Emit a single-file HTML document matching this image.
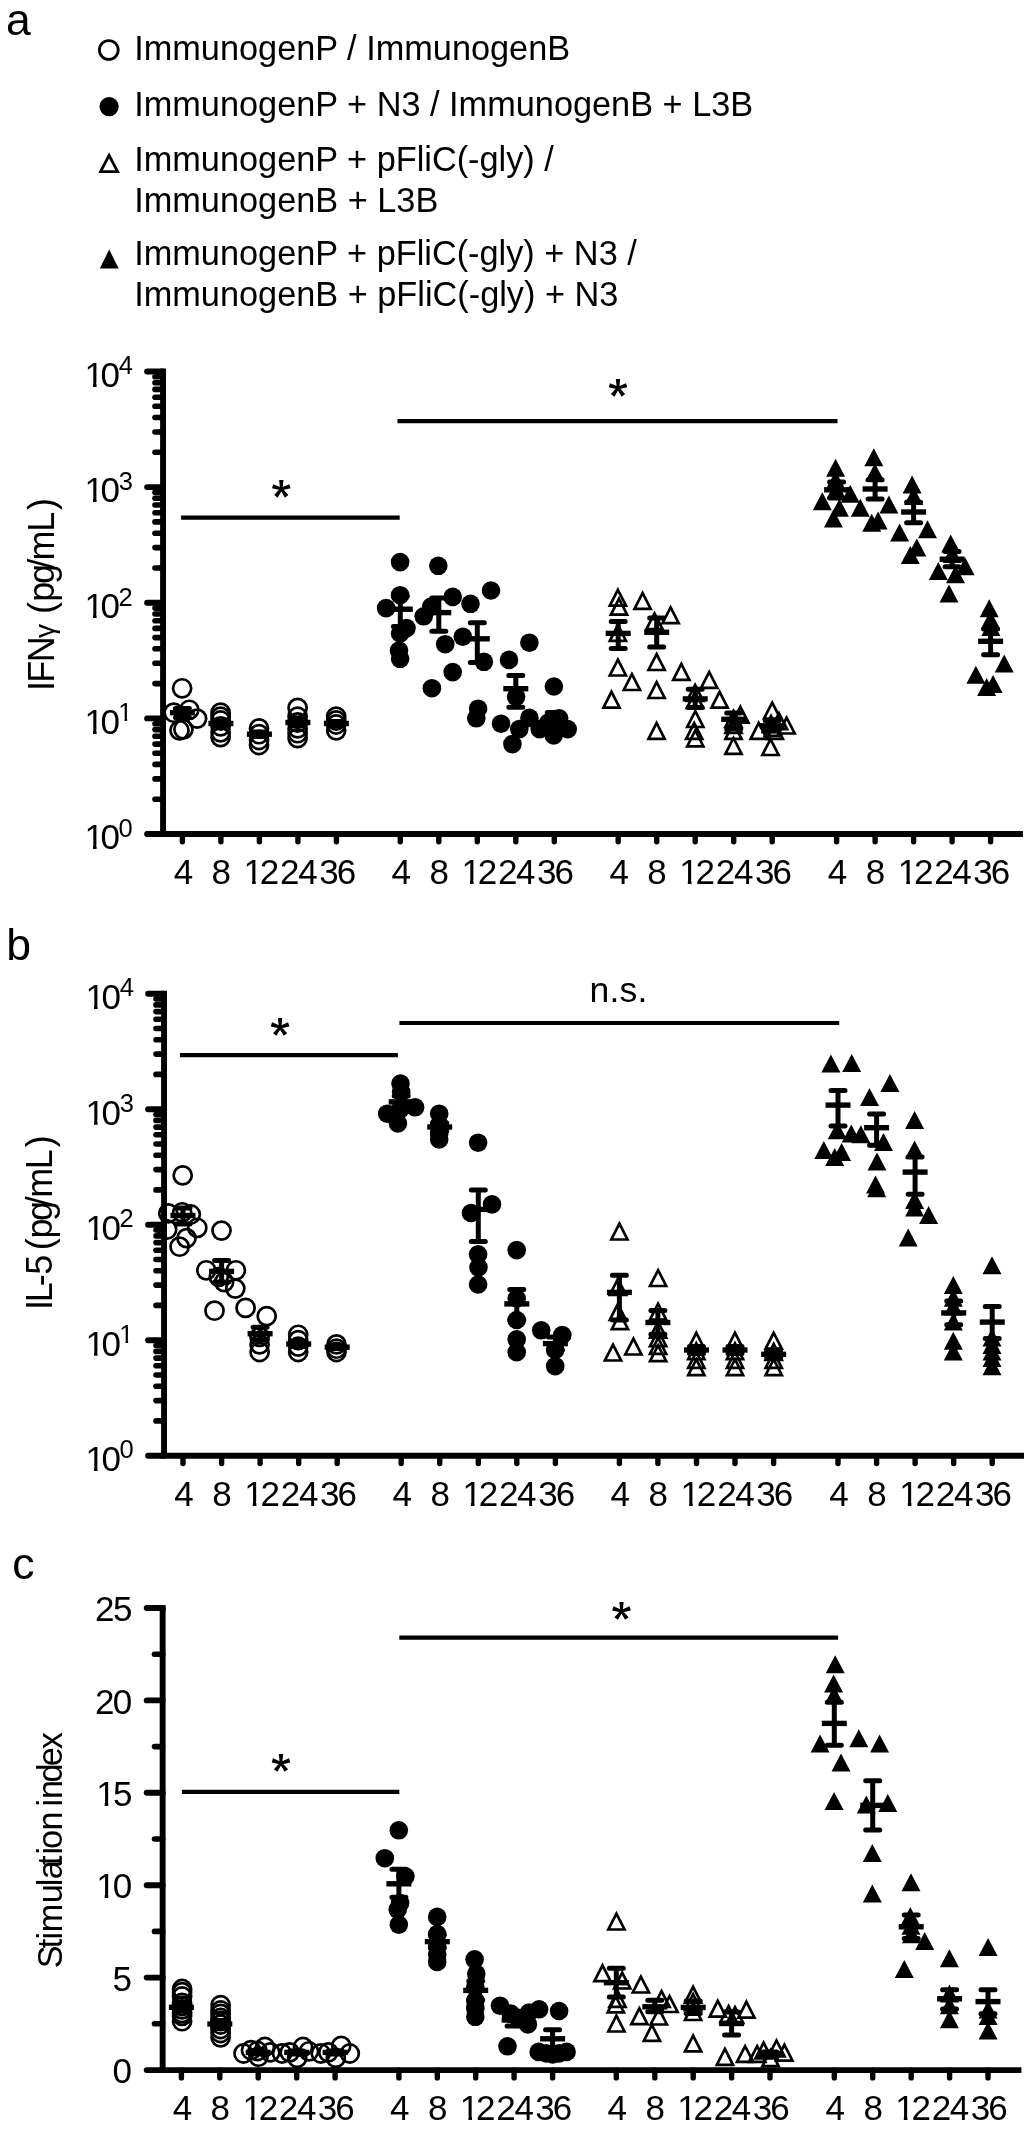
<!DOCTYPE html><html><head><meta charset="utf-8"><title>Figure</title><style>html,body{margin:0;padding:0;background:#fff}svg{display:block}</style></head><body>
<svg width="1024" height="2131" viewBox="0 0 1024 2131" style="font-family:'Liberation Sans',sans-serif;filter:blur(0.45px)">
<rect width="1024" height="2131" fill="#fff"/>
<defs><clipPath id="c1_35" clipPathUnits="userSpaceOnUse"><rect x="0" y="-35.00" width="35.00" height="30.73"/><rect x="8.54" y="-4.79" width="3.61" height="5.13"/></clipPath><clipPath id="c1_25_5" clipPathUnits="userSpaceOnUse"><rect x="0" y="-25.50" width="25.50" height="22.39"/><rect x="6.23" y="-3.49" width="2.63" height="3.74"/></clipPath></defs>
<text x="5.88" y="34.5" font-size="44.5"  style="font-family:'Liberation Sans',sans-serif">a</text>
<text x="6.33" y="960.0" font-size="44.5"  style="font-family:'Liberation Sans',sans-serif">b</text>
<text x="12.27" y="1578.6" font-size="44.5"  style="font-family:'Liberation Sans',sans-serif">c</text>
<text x="134.2" y="60.0" font-size="34.3" style="font-family:'Liberation Sans',sans-serif">ImmunogenP / ImmunogenB</text>
<text x="134.2" y="116.1" font-size="34.3" style="font-family:'Liberation Sans',sans-serif">ImmunogenP + N3 / ImmunogenB + L3B</text>
<text x="134.2" y="171.4" font-size="34.3" style="font-family:'Liberation Sans',sans-serif">ImmunogenP + pFliC(-gly) /</text>
<text x="134.2" y="212.4" font-size="34.3" style="font-family:'Liberation Sans',sans-serif">ImmunogenB + L3B</text>
<text x="134.2" y="265.1" font-size="34.3" style="font-family:'Liberation Sans',sans-serif">ImmunogenP + pFliC(-gly) + N3 /</text>
<text x="134.2" y="306.1" font-size="34.3" style="font-family:'Liberation Sans',sans-serif">ImmunogenB + pFliC(-gly) + N3</text>
<circle cx="108.8" cy="50.0" r="9.4" fill="none" stroke="#000" stroke-width="2.8"/>
<circle cx="109.1" cy="106.6" r="9.6" fill="#000"/>
<path d="M109.1,155.3L117.6,171.7L100.6,171.7Z" fill="none" stroke="#000" stroke-width="2.8"/>
<path d="M109.2,249.5L118.6,268.4L99.8,268.4Z" fill="#000"/>
<path d="M163.05,371.5V834.0" stroke="#000" stroke-width="5.9" stroke-linecap="butt" fill="none"/>
<path d="M160.1,834.0H1022.9" stroke="#000" stroke-width="5.9" fill="none"/>
<path d="M147.10,834.0H163.05" stroke="#000" stroke-width="5.9" stroke-linecap="round" fill="none"/>
<path d="M147.10,718.4H163.05" stroke="#000" stroke-width="5.9" stroke-linecap="round" fill="none"/>
<path d="M147.10,602.8H163.05" stroke="#000" stroke-width="5.9" stroke-linecap="round" fill="none"/>
<path d="M147.10,487.1H163.05" stroke="#000" stroke-width="5.9" stroke-linecap="round" fill="none"/>
<path d="M147.10,371.5H163.05" stroke="#000" stroke-width="5.9" stroke-linecap="round" fill="none"/>
<path d="M155.00,799.2H163.05" stroke="#000" stroke-width="5.6000000000000005" stroke-linecap="round" fill="none"/>
<path d="M155.00,778.9H163.05" stroke="#000" stroke-width="5.6000000000000005" stroke-linecap="round" fill="none"/>
<path d="M155.00,764.4H163.05" stroke="#000" stroke-width="5.6000000000000005" stroke-linecap="round" fill="none"/>
<path d="M155.00,753.2H163.05" stroke="#000" stroke-width="5.6000000000000005" stroke-linecap="round" fill="none"/>
<path d="M155.00,744.1H163.05" stroke="#000" stroke-width="5.6000000000000005" stroke-linecap="round" fill="none"/>
<path d="M155.00,736.3H163.05" stroke="#000" stroke-width="5.6000000000000005" stroke-linecap="round" fill="none"/>
<path d="M155.00,729.6H163.05" stroke="#000" stroke-width="5.6000000000000005" stroke-linecap="round" fill="none"/>
<path d="M155.00,723.7H163.05" stroke="#000" stroke-width="5.6000000000000005" stroke-linecap="round" fill="none"/>
<path d="M155.00,683.6H163.05" stroke="#000" stroke-width="5.6000000000000005" stroke-linecap="round" fill="none"/>
<path d="M155.00,663.2H163.05" stroke="#000" stroke-width="5.6000000000000005" stroke-linecap="round" fill="none"/>
<path d="M155.00,648.8H163.05" stroke="#000" stroke-width="5.6000000000000005" stroke-linecap="round" fill="none"/>
<path d="M155.00,637.6H163.05" stroke="#000" stroke-width="5.6000000000000005" stroke-linecap="round" fill="none"/>
<path d="M155.00,628.4H163.05" stroke="#000" stroke-width="5.6000000000000005" stroke-linecap="round" fill="none"/>
<path d="M155.00,620.7H163.05" stroke="#000" stroke-width="5.6000000000000005" stroke-linecap="round" fill="none"/>
<path d="M155.00,614.0H163.05" stroke="#000" stroke-width="5.6000000000000005" stroke-linecap="round" fill="none"/>
<path d="M155.00,608.1H163.05" stroke="#000" stroke-width="5.6000000000000005" stroke-linecap="round" fill="none"/>
<path d="M155.00,568.0H163.05" stroke="#000" stroke-width="5.6000000000000005" stroke-linecap="round" fill="none"/>
<path d="M155.00,547.6H163.05" stroke="#000" stroke-width="5.6000000000000005" stroke-linecap="round" fill="none"/>
<path d="M155.00,533.2H163.05" stroke="#000" stroke-width="5.6000000000000005" stroke-linecap="round" fill="none"/>
<path d="M155.00,521.9H163.05" stroke="#000" stroke-width="5.6000000000000005" stroke-linecap="round" fill="none"/>
<path d="M155.00,512.8H163.05" stroke="#000" stroke-width="5.6000000000000005" stroke-linecap="round" fill="none"/>
<path d="M155.00,505.0H163.05" stroke="#000" stroke-width="5.6000000000000005" stroke-linecap="round" fill="none"/>
<path d="M155.00,498.3H163.05" stroke="#000" stroke-width="5.6000000000000005" stroke-linecap="round" fill="none"/>
<path d="M155.00,492.4H163.05" stroke="#000" stroke-width="5.6000000000000005" stroke-linecap="round" fill="none"/>
<path d="M155.00,452.3H163.05" stroke="#000" stroke-width="5.6000000000000005" stroke-linecap="round" fill="none"/>
<path d="M155.00,432.0H163.05" stroke="#000" stroke-width="5.6000000000000005" stroke-linecap="round" fill="none"/>
<path d="M155.00,417.5H163.05" stroke="#000" stroke-width="5.6000000000000005" stroke-linecap="round" fill="none"/>
<path d="M155.00,406.3H163.05" stroke="#000" stroke-width="5.6000000000000005" stroke-linecap="round" fill="none"/>
<path d="M155.00,397.2H163.05" stroke="#000" stroke-width="5.6000000000000005" stroke-linecap="round" fill="none"/>
<path d="M155.00,389.4H163.05" stroke="#000" stroke-width="5.6000000000000005" stroke-linecap="round" fill="none"/>
<path d="M155.00,382.7H163.05" stroke="#000" stroke-width="5.6000000000000005" stroke-linecap="round" fill="none"/>
<path d="M155.00,376.8H163.05" stroke="#000" stroke-width="5.6000000000000005" stroke-linecap="round" fill="none"/>
<rect x="160.1" y="368.6" width="5.9" height="5.9" fill="#000"/>
<path d="M182.4,834.0V841.8" stroke="#000" stroke-width="5.4" stroke-linecap="round" fill="none"/>
<path d="M220.9,834.0V841.8" stroke="#000" stroke-width="5.4" stroke-linecap="round" fill="none"/>
<path d="M259.4,834.0V841.8" stroke="#000" stroke-width="5.4" stroke-linecap="round" fill="none"/>
<path d="M297.9,834.0V841.8" stroke="#000" stroke-width="5.4" stroke-linecap="round" fill="none"/>
<path d="M336.4,834.0V841.8" stroke="#000" stroke-width="5.4" stroke-linecap="round" fill="none"/>
<path d="M400.3,834.0V841.8" stroke="#000" stroke-width="5.4" stroke-linecap="round" fill="none"/>
<path d="M438.8,834.0V841.8" stroke="#000" stroke-width="5.4" stroke-linecap="round" fill="none"/>
<path d="M477.3,834.0V841.8" stroke="#000" stroke-width="5.4" stroke-linecap="round" fill="none"/>
<path d="M515.8,834.0V841.8" stroke="#000" stroke-width="5.4" stroke-linecap="round" fill="none"/>
<path d="M554.3,834.0V841.8" stroke="#000" stroke-width="5.4" stroke-linecap="round" fill="none"/>
<path d="M618.2,834.0V841.8" stroke="#000" stroke-width="5.4" stroke-linecap="round" fill="none"/>
<path d="M656.7,834.0V841.8" stroke="#000" stroke-width="5.4" stroke-linecap="round" fill="none"/>
<path d="M695.2,834.0V841.8" stroke="#000" stroke-width="5.4" stroke-linecap="round" fill="none"/>
<path d="M733.7,834.0V841.8" stroke="#000" stroke-width="5.4" stroke-linecap="round" fill="none"/>
<path d="M772.2,834.0V841.8" stroke="#000" stroke-width="5.4" stroke-linecap="round" fill="none"/>
<path d="M836.6,834.0V841.8" stroke="#000" stroke-width="5.4" stroke-linecap="round" fill="none"/>
<path d="M875.1,834.0V841.8" stroke="#000" stroke-width="5.4" stroke-linecap="round" fill="none"/>
<path d="M913.6,834.0V841.8" stroke="#000" stroke-width="5.4" stroke-linecap="round" fill="none"/>
<path d="M952.1,834.0V841.8" stroke="#000" stroke-width="5.4" stroke-linecap="round" fill="none"/>
<path d="M990.6,834.0V841.8" stroke="#000" stroke-width="5.4" stroke-linecap="round" fill="none"/>
<text x="173.63" y="884.2" font-size="35"  style="font-family:'Liberation Sans',sans-serif">4</text>
<text x="211.57" y="884.2" font-size="35"  style="font-family:'Liberation Sans',sans-serif">8</text>
<g transform="translate(243.53,884.2)"><text x="0" y="0" font-size="35" clip-path="url(#c1_35)"  style="font-family:'Liberation Sans',sans-serif">1</text></g><text x="259.79" y="884.2" font-size="35"  style="font-family:'Liberation Sans',sans-serif">2</text>
<text x="280.04 298.16" y="884.2" font-size="35"  style="font-family:'Liberation Sans',sans-serif">24</text>
<text x="319.17 336.67" y="884.2" font-size="35"  style="font-family:'Liberation Sans',sans-serif">36</text>
<text x="391.53" y="884.2" font-size="35"  style="font-family:'Liberation Sans',sans-serif">4</text>
<text x="429.47" y="884.2" font-size="35"  style="font-family:'Liberation Sans',sans-serif">8</text>
<g transform="translate(461.43,884.2)"><text x="0" y="0" font-size="35" clip-path="url(#c1_35)"  style="font-family:'Liberation Sans',sans-serif">1</text></g><text x="477.69" y="884.2" font-size="35"  style="font-family:'Liberation Sans',sans-serif">2</text>
<text x="497.94 516.06" y="884.2" font-size="35"  style="font-family:'Liberation Sans',sans-serif">24</text>
<text x="537.07 554.57" y="884.2" font-size="35"  style="font-family:'Liberation Sans',sans-serif">36</text>
<text x="609.43" y="884.2" font-size="35"  style="font-family:'Liberation Sans',sans-serif">4</text>
<text x="647.37" y="884.2" font-size="35"  style="font-family:'Liberation Sans',sans-serif">8</text>
<g transform="translate(679.33,884.2)"><text x="0" y="0" font-size="35" clip-path="url(#c1_35)"  style="font-family:'Liberation Sans',sans-serif">1</text></g><text x="695.59" y="884.2" font-size="35"  style="font-family:'Liberation Sans',sans-serif">2</text>
<text x="715.84 733.96" y="884.2" font-size="35"  style="font-family:'Liberation Sans',sans-serif">24</text>
<text x="754.97 772.47" y="884.2" font-size="35"  style="font-family:'Liberation Sans',sans-serif">36</text>
<text x="827.83" y="884.2" font-size="35"  style="font-family:'Liberation Sans',sans-serif">4</text>
<text x="865.77" y="884.2" font-size="35"  style="font-family:'Liberation Sans',sans-serif">8</text>
<g transform="translate(897.73,884.2)"><text x="0" y="0" font-size="35" clip-path="url(#c1_35)"  style="font-family:'Liberation Sans',sans-serif">1</text></g><text x="913.99" y="884.2" font-size="35"  style="font-family:'Liberation Sans',sans-serif">2</text>
<text x="934.24 952.36" y="884.2" font-size="35"  style="font-family:'Liberation Sans',sans-serif">24</text>
<text x="973.37 990.87" y="884.2" font-size="35"  style="font-family:'Liberation Sans',sans-serif">36</text>
<g transform="translate(84.43,849.3)"><text x="0" y="0" font-size="35" clip-path="url(#c1_35)"  style="font-family:'Liberation Sans',sans-serif">1</text></g><text x="100.40" y="849.3" font-size="35"  style="font-family:'Liberation Sans',sans-serif">0</text>
<text x="118.61" y="836.8" font-size="25.5"  style="font-family:'Liberation Sans',sans-serif">0</text>
<g transform="translate(84.43,733.7)"><text x="0" y="0" font-size="35" clip-path="url(#c1_35)"  style="font-family:'Liberation Sans',sans-serif">1</text></g><text x="100.40" y="733.7" font-size="35"  style="font-family:'Liberation Sans',sans-serif">0</text>
<g transform="translate(118.26,721.1)"><text x="0" y="0" font-size="25.5" clip-path="url(#c1_25_5)"  style="font-family:'Liberation Sans',sans-serif">1</text></g>
<g transform="translate(84.43,618.1)"><text x="0" y="0" font-size="35" clip-path="url(#c1_35)"  style="font-family:'Liberation Sans',sans-serif">1</text></g><text x="100.40" y="618.1" font-size="35"  style="font-family:'Liberation Sans',sans-serif">0</text>
<text x="118.61" y="605.5" font-size="25.5"  style="font-family:'Liberation Sans',sans-serif">2</text>
<g transform="translate(84.43,502.4)"><text x="0" y="0" font-size="35" clip-path="url(#c1_35)"  style="font-family:'Liberation Sans',sans-serif">1</text></g><text x="100.40" y="502.4" font-size="35"  style="font-family:'Liberation Sans',sans-serif">0</text>
<text x="118.68" y="489.8" font-size="25.5"  style="font-family:'Liberation Sans',sans-serif">3</text>
<g transform="translate(84.43,386.8)"><text x="0" y="0" font-size="35" clip-path="url(#c1_35)"  style="font-family:'Liberation Sans',sans-serif">1</text></g><text x="100.40" y="386.8" font-size="35"  style="font-family:'Liberation Sans',sans-serif">0</text>
<text x="118.69" y="374.2" font-size="25.5"  style="font-family:'Liberation Sans',sans-serif">4</text>
<text transform="translate(54.0,0) rotate(-90)" x="-690.92" y="0" font-size="36" style="font-family:'Liberation Sans',sans-serif">I</text>
<text transform="translate(54.0,0) rotate(-90)" x="-682.65" y="0" font-size="36" style="font-family:'Liberation Sans',sans-serif">F</text>
<text transform="translate(54.0,0) rotate(-90)" x="-662.25" y="0" font-size="36" style="font-family:'Liberation Sans',sans-serif">N</text>
<text transform="translate(54.0,0) rotate(-90)" x="-637.90" y="0" font-size="28" style="font-family:'Liberation Sans',sans-serif">γ</text>
<text transform="translate(54.0,0) rotate(-90)" x="-613.93" y="0" font-size="36" style="font-family:'Liberation Sans',sans-serif">(</text>
<text transform="translate(54.0,0) rotate(-90)" x="-601.72" y="0" font-size="36" style="font-family:'Liberation Sans',sans-serif">p</text>
<text transform="translate(54.0,0) rotate(-90)" x="-584.11" y="0" font-size="36" style="font-family:'Liberation Sans',sans-serif">g</text>
<text transform="translate(54.0,0) rotate(-90)" x="-568.80" y="0" font-size="36" style="font-family:'Liberation Sans',sans-serif">/</text>
<text transform="translate(54.0,0) rotate(-90)" x="-560.39" y="0" font-size="36" style="font-family:'Liberation Sans',sans-serif">m</text>
<text transform="translate(54.0,0) rotate(-90)" x="-531.85" y="0" font-size="36" style="font-family:'Liberation Sans',sans-serif">L</text>
<text transform="translate(54.0,0) rotate(-90)" x="-509.91" y="0" font-size="36" style="font-family:'Liberation Sans',sans-serif">)</text>
<path d="M181.1,517.6H399.7" stroke="#000" stroke-width="4.2" stroke-linecap="butt" fill="none"/>
<path d="M282.55,489.00L283.45,479.90L279.15,479.90L280.05,489.00ZM281.69,487.81L273.31,484.14L271.98,488.23L280.91,490.19ZM280.29,488.27L274.21,495.10L277.69,497.63L282.31,489.73ZM280.29,489.73L284.91,497.63L288.39,495.10L282.31,488.27ZM281.69,490.19L290.62,488.23L289.29,484.14L280.91,487.81Z" fill="#000"/>
<circle cx="281.3" cy="489.0" r="1.9" fill="#000"/>
<path d="M397.5,421.2H837.5" stroke="#000" stroke-width="4.2" stroke-linecap="butt" fill="none"/>
<path d="M619.25,388.00L620.15,378.90L615.85,378.90L616.75,388.00ZM618.39,386.81L610.01,383.14L608.68,387.23L617.61,389.19ZM616.99,387.27L610.91,394.10L614.39,396.63L619.01,388.73ZM616.99,388.73L621.61,396.63L625.09,394.10L619.01,387.27ZM618.39,389.19L627.32,387.23L625.99,383.14L617.61,386.81Z" fill="#000"/>
<circle cx="618.0" cy="388.0" r="1.9" fill="#000"/>
<circle cx="182.1" cy="688.3" r="9.05" fill="none" stroke="#000" stroke-width="2.7"/>
<circle cx="173.7" cy="712.7" r="9.05" fill="none" stroke="#000" stroke-width="2.7"/>
<circle cx="189.3" cy="709.8" r="9.05" fill="none" stroke="#000" stroke-width="2.7"/>
<circle cx="197.1" cy="718.6" r="9.05" fill="none" stroke="#000" stroke-width="2.7"/>
<circle cx="179.5" cy="730.3" r="9.05" fill="none" stroke="#000" stroke-width="2.7"/>
<circle cx="183.4" cy="729.3" r="9.05" fill="none" stroke="#000" stroke-width="2.7"/>
<circle cx="220.6" cy="712.7" r="9.05" fill="none" stroke="#000" stroke-width="2.7"/>
<circle cx="220.6" cy="716.6" r="9.05" fill="none" stroke="#000" stroke-width="2.7"/>
<circle cx="220.6" cy="720.5" r="9.05" fill="none" stroke="#000" stroke-width="2.7"/>
<circle cx="220.6" cy="726.4" r="9.05" fill="none" stroke="#000" stroke-width="2.7"/>
<circle cx="220.6" cy="732.3" r="9.05" fill="none" stroke="#000" stroke-width="2.7"/>
<circle cx="220.6" cy="737.1" r="9.05" fill="none" stroke="#000" stroke-width="2.7"/>
<circle cx="259.0" cy="728.4" r="9.05" fill="none" stroke="#000" stroke-width="2.7"/>
<circle cx="259.0" cy="734.2" r="9.05" fill="none" stroke="#000" stroke-width="2.7"/>
<circle cx="259.0" cy="740.0" r="9.05" fill="none" stroke="#000" stroke-width="2.7"/>
<circle cx="259.0" cy="745.0" r="9.05" fill="none" stroke="#000" stroke-width="2.7"/>
<circle cx="297.6" cy="707.9" r="9.05" fill="none" stroke="#000" stroke-width="2.7"/>
<circle cx="297.6" cy="716.6" r="9.05" fill="none" stroke="#000" stroke-width="2.7"/>
<circle cx="297.6" cy="722.5" r="9.05" fill="none" stroke="#000" stroke-width="2.7"/>
<circle cx="297.6" cy="728.4" r="9.05" fill="none" stroke="#000" stroke-width="2.7"/>
<circle cx="297.6" cy="733.2" r="9.05" fill="none" stroke="#000" stroke-width="2.7"/>
<circle cx="297.6" cy="738.1" r="9.05" fill="none" stroke="#000" stroke-width="2.7"/>
<circle cx="336.2" cy="716.6" r="9.05" fill="none" stroke="#000" stroke-width="2.7"/>
<circle cx="336.2" cy="720.5" r="9.05" fill="none" stroke="#000" stroke-width="2.7"/>
<circle cx="336.2" cy="724.5" r="9.05" fill="none" stroke="#000" stroke-width="2.7"/>
<circle cx="336.2" cy="730.3" r="9.05" fill="none" stroke="#000" stroke-width="2.7"/>
<path d="M182.4,708.5V717.5" stroke="#000" stroke-width="5.0" fill="none"/><path d="M175.4,708.5H189.4M175.4,717.5H189.4" stroke="#000" stroke-width="5.0" stroke-linecap="round" fill="none"/><path d="M169.9,712.7H194.9" stroke="#000" stroke-width="5.4" fill="none"/>
<path d="M220.9,721.0V726.0" stroke="#000" stroke-width="5.0" fill="none"/><path d="M213.9,721.0H227.9M213.9,726.0H227.9" stroke="#000" stroke-width="5.0" stroke-linecap="round" fill="none"/><path d="M208.4,723.5H233.4" stroke="#000" stroke-width="5.4" fill="none"/>
<path d="M259.4,732.0V736.5" stroke="#000" stroke-width="5.0" fill="none"/><path d="M252.4,732.0H266.4M252.4,736.5H266.4" stroke="#000" stroke-width="5.0" stroke-linecap="round" fill="none"/><path d="M246.9,734.2H271.9" stroke="#000" stroke-width="5.4" fill="none"/>
<path d="M297.9,719.5V725.5" stroke="#000" stroke-width="5.0" fill="none"/><path d="M290.9,719.5H304.9M290.9,725.5H304.9" stroke="#000" stroke-width="5.0" stroke-linecap="round" fill="none"/><path d="M285.4,722.5H310.4" stroke="#000" stroke-width="5.4" fill="none"/>
<path d="M336.4,721.5V725.5" stroke="#000" stroke-width="5.0" fill="none"/><path d="M329.4,721.5H343.4M329.4,725.5H343.4" stroke="#000" stroke-width="5.0" stroke-linecap="round" fill="none"/><path d="M323.9,723.5H348.9" stroke="#000" stroke-width="5.4" fill="none"/>
<circle cx="400.1" cy="562.1" r="9.3" fill="#000"/>
<circle cx="400.1" cy="595.2" r="9.3" fill="#000"/>
<circle cx="386.1" cy="608.1" r="9.3" fill="#000"/>
<circle cx="406.5" cy="628.1" r="9.3" fill="#000"/>
<circle cx="400.1" cy="633.5" r="9.3" fill="#000"/>
<circle cx="399.0" cy="650.6" r="9.3" fill="#000"/>
<circle cx="400.1" cy="658.8" r="9.3" fill="#000"/>
<circle cx="438.3" cy="565.8" r="9.3" fill="#000"/>
<circle cx="452.7" cy="596.9" r="9.3" fill="#000"/>
<circle cx="431.2" cy="606.6" r="9.3" fill="#000"/>
<circle cx="423.7" cy="616.3" r="9.3" fill="#000"/>
<circle cx="445.2" cy="644.2" r="9.3" fill="#000"/>
<circle cx="452.7" cy="672.1" r="9.3" fill="#000"/>
<circle cx="431.9" cy="688.2" r="9.3" fill="#000"/>
<circle cx="491.0" cy="590.5" r="9.3" fill="#000"/>
<circle cx="470.5" cy="603.8" r="9.3" fill="#000"/>
<circle cx="462.8" cy="636.7" r="9.3" fill="#000"/>
<circle cx="483.9" cy="661.8" r="9.3" fill="#000"/>
<circle cx="478.1" cy="708.7" r="9.3" fill="#000"/>
<circle cx="476.3" cy="718.3" r="9.3" fill="#000"/>
<circle cx="529.4" cy="642.7" r="9.3" fill="#000"/>
<circle cx="509.0" cy="659.9" r="9.3" fill="#000"/>
<circle cx="516.1" cy="696.8" r="9.3" fill="#000"/>
<circle cx="501.0" cy="723.7" r="9.3" fill="#000"/>
<circle cx="519.3" cy="729.1" r="9.3" fill="#000"/>
<circle cx="529.4" cy="717.9" r="9.3" fill="#000"/>
<circle cx="512.4" cy="744.1" r="9.3" fill="#000"/>
<circle cx="553.9" cy="686.5" r="9.3" fill="#000"/>
<circle cx="539.7" cy="729.1" r="9.3" fill="#000"/>
<circle cx="548.3" cy="722.6" r="9.3" fill="#000"/>
<circle cx="559.1" cy="718.3" r="9.3" fill="#000"/>
<circle cx="567.7" cy="729.1" r="9.3" fill="#000"/>
<circle cx="553.7" cy="735.5" r="9.3" fill="#000"/>
<circle cx="557.0" cy="729.0" r="9.3" fill="#000"/>
<path d="M400.3,596.3V626.6" stroke="#000" stroke-width="5.0" fill="none"/><path d="M393.3,596.3H407.3M393.3,626.6H407.3" stroke="#000" stroke-width="5.0" stroke-linecap="round" fill="none"/><path d="M387.8,609.2H412.8" stroke="#000" stroke-width="5.4" fill="none"/>
<path d="M438.8,598.0V631.3" stroke="#000" stroke-width="5.0" fill="none"/><path d="M431.8,598.0H445.8M431.8,631.3H445.8" stroke="#000" stroke-width="5.0" stroke-linecap="round" fill="none"/><path d="M426.3,612.6H451.3" stroke="#000" stroke-width="5.4" fill="none"/>
<path d="M477.3,622.7V662.5" stroke="#000" stroke-width="5.0" fill="none"/><path d="M470.3,622.7H484.3M470.3,662.5H484.3" stroke="#000" stroke-width="5.0" stroke-linecap="round" fill="none"/><path d="M464.8,638.8H489.8" stroke="#000" stroke-width="5.4" fill="none"/>
<path d="M515.8,675.4V707.2" stroke="#000" stroke-width="5.0" fill="none"/><path d="M508.8,675.4H522.8M508.8,707.2H522.8" stroke="#000" stroke-width="5.0" stroke-linecap="round" fill="none"/><path d="M503.3,688.7H528.3" stroke="#000" stroke-width="5.4" fill="none"/>
<path d="M554.3,712.5V731.0" stroke="#000" stroke-width="5.0" fill="none"/><path d="M547.3,712.5H561.3M547.3,731.0H561.3" stroke="#000" stroke-width="5.0" stroke-linecap="round" fill="none"/><path d="M541.8,722.0H566.8" stroke="#000" stroke-width="5.4" fill="none"/>
<path d="M617.9,589.8L626.0,605.6L609.8,605.6Z" fill="none" stroke="#000" stroke-width="2.7" stroke-linejoin="miter"/>
<path d="M619.0,598.8L627.1,614.6L610.9,614.6Z" fill="none" stroke="#000" stroke-width="2.7" stroke-linejoin="miter"/>
<path d="M617.9,624.9L626.0,640.8L609.8,640.8Z" fill="none" stroke="#000" stroke-width="2.7" stroke-linejoin="miter"/>
<path d="M617.9,659.6L626.0,675.5L609.8,675.5Z" fill="none" stroke="#000" stroke-width="2.7" stroke-linejoin="miter"/>
<path d="M631.9,674.2L640.0,690.0L623.8,690.0Z" fill="none" stroke="#000" stroke-width="2.7" stroke-linejoin="miter"/>
<path d="M611.5,691.8L619.6,707.6L603.4,707.6Z" fill="none" stroke="#000" stroke-width="2.7" stroke-linejoin="miter"/>
<path d="M642.6,593.0L650.7,608.9L634.5,608.9Z" fill="none" stroke="#000" stroke-width="2.7" stroke-linejoin="miter"/>
<path d="M670.6,607.4L678.7,623.2L662.5,623.2Z" fill="none" stroke="#000" stroke-width="2.7" stroke-linejoin="miter"/>
<path d="M654.5,613.4L662.6,629.2L646.4,629.2Z" fill="none" stroke="#000" stroke-width="2.7" stroke-linejoin="miter"/>
<path d="M656.6,654.2L664.7,670.0L648.5,670.0Z" fill="none" stroke="#000" stroke-width="2.7" stroke-linejoin="miter"/>
<path d="M656.6,682.1L664.7,698.0L648.5,698.0Z" fill="none" stroke="#000" stroke-width="2.7" stroke-linejoin="miter"/>
<path d="M656.6,723.0L664.7,738.9L648.5,738.9Z" fill="none" stroke="#000" stroke-width="2.7" stroke-linejoin="miter"/>
<path d="M681.3,663.9L689.4,679.8L673.2,679.8Z" fill="none" stroke="#000" stroke-width="2.7" stroke-linejoin="miter"/>
<path d="M709.2,672.0L717.3,687.9L701.1,687.9Z" fill="none" stroke="#000" stroke-width="2.7" stroke-linejoin="miter"/>
<path d="M719.6,691.8L727.7,707.6L711.5,707.6Z" fill="none" stroke="#000" stroke-width="2.7" stroke-linejoin="miter"/>
<path d="M695.1,684.9L703.2,700.8L687.0,700.8Z" fill="none" stroke="#000" stroke-width="2.7" stroke-linejoin="miter"/>
<path d="M695.1,691.9L703.2,707.8L687.0,707.8Z" fill="none" stroke="#000" stroke-width="2.7" stroke-linejoin="miter"/>
<path d="M695.3,711.1L703.4,727.0L687.2,727.0Z" fill="none" stroke="#000" stroke-width="2.7" stroke-linejoin="miter"/>
<path d="M694.2,723.0L702.3,738.9L686.1,738.9Z" fill="none" stroke="#000" stroke-width="2.7" stroke-linejoin="miter"/>
<path d="M695.3,730.5L703.4,746.4L687.2,746.4Z" fill="none" stroke="#000" stroke-width="2.7" stroke-linejoin="miter"/>
<path d="M740.4,706.8L748.5,722.6L732.3,722.6Z" fill="none" stroke="#000" stroke-width="2.7" stroke-linejoin="miter"/>
<path d="M733.5,710.9L741.6,726.8L725.4,726.8Z" fill="none" stroke="#000" stroke-width="2.7" stroke-linejoin="miter"/>
<path d="M733.5,716.9L741.6,732.8L725.4,732.8Z" fill="none" stroke="#000" stroke-width="2.7" stroke-linejoin="miter"/>
<path d="M733.5,723.0L741.6,738.9L725.4,738.9Z" fill="none" stroke="#000" stroke-width="2.7" stroke-linejoin="miter"/>
<path d="M733.5,738.0L741.6,753.9L725.4,753.9Z" fill="none" stroke="#000" stroke-width="2.7" stroke-linejoin="miter"/>
<path d="M772.2,702.6L780.3,718.5L764.1,718.5Z" fill="none" stroke="#000" stroke-width="2.7" stroke-linejoin="miter"/>
<path d="M758.7,723.0L766.8,738.9L750.6,738.9Z" fill="none" stroke="#000" stroke-width="2.7" stroke-linejoin="miter"/>
<path d="M779.0,713.3L787.1,729.1L770.9,729.1Z" fill="none" stroke="#000" stroke-width="2.7" stroke-linejoin="miter"/>
<path d="M786.6,717.6L794.7,733.5L778.5,733.5Z" fill="none" stroke="#000" stroke-width="2.7" stroke-linejoin="miter"/>
<path d="M770.5,739.1L778.6,755.0L762.4,755.0Z" fill="none" stroke="#000" stroke-width="2.7" stroke-linejoin="miter"/>
<path d="M774.8,723.0L782.9,738.9L766.7,738.9Z" fill="none" stroke="#000" stroke-width="2.7" stroke-linejoin="miter"/>
<path d="M771.0,715.9L779.1,731.8L762.9,731.8Z" fill="none" stroke="#000" stroke-width="2.7" stroke-linejoin="miter"/>
<path d="M773.0,719.9L781.1,735.8L764.9,735.8Z" fill="none" stroke="#000" stroke-width="2.7" stroke-linejoin="miter"/>
<path d="M618.2,621.6V648.4" stroke="#000" stroke-width="5.0" fill="none"/><path d="M611.2,621.6H625.2M611.2,648.4H625.2" stroke="#000" stroke-width="5.0" stroke-linecap="round" fill="none"/><path d="M605.7,633.4H630.7" stroke="#000" stroke-width="5.4" fill="none"/>
<path d="M656.7,618.0V646.9" stroke="#000" stroke-width="5.0" fill="none"/><path d="M649.7,618.0H663.7M649.7,646.9H663.7" stroke="#000" stroke-width="5.0" stroke-linecap="round" fill="none"/><path d="M644.2,632.3H669.2" stroke="#000" stroke-width="5.4" fill="none"/>
<path d="M695.2,689.2V707.5" stroke="#000" stroke-width="5.0" fill="none"/><path d="M688.2,689.2H702.2M688.2,707.5H702.2" stroke="#000" stroke-width="5.0" stroke-linecap="round" fill="none"/><path d="M682.7,698.9H707.7" stroke="#000" stroke-width="5.4" fill="none"/>
<path d="M733.7,712.9V729.0" stroke="#000" stroke-width="5.0" fill="none"/><path d="M726.7,712.9H740.7M726.7,729.0H740.7" stroke="#000" stroke-width="5.0" stroke-linecap="round" fill="none"/><path d="M721.2,719.3H746.2" stroke="#000" stroke-width="5.4" fill="none"/>
<path d="M772.2,720.5V731.0" stroke="#000" stroke-width="5.0" fill="none"/><path d="M765.2,720.5H779.2M765.2,731.0H779.2" stroke="#000" stroke-width="5.0" stroke-linecap="round" fill="none"/><path d="M759.7,725.8H784.7" stroke="#000" stroke-width="5.4" fill="none"/>
<path d="M835.6,458.7L845.1,476.7L826.1,476.7Z" fill="#000"/>
<path d="M835.6,470.7L845.1,488.7L826.1,488.7Z" fill="#000"/>
<path d="M836.2,480.4L845.7,498.4L826.7,498.4Z" fill="#000"/>
<path d="M850.2,484.7L859.7,502.7L840.7,502.7Z" fill="#000"/>
<path d="M822.3,492.2L831.8,510.2L812.8,510.2Z" fill="#000"/>
<path d="M839.4,498.7L848.9,516.7L829.9,516.7Z" fill="#000"/>
<path d="M833.4,509.4L842.9,527.4L823.9,527.4Z" fill="#000"/>
<path d="M873.8,448.2L883.3,466.2L864.3,466.2Z" fill="#000"/>
<path d="M874.9,463.2L884.4,481.2L865.4,481.2Z" fill="#000"/>
<path d="M888.9,495.5L898.4,513.5L879.4,513.5Z" fill="#000"/>
<path d="M860.3,498.7L869.8,516.7L850.8,516.7Z" fill="#000"/>
<path d="M878.1,511.6L887.6,529.6L868.6,529.6Z" fill="#000"/>
<path d="M871.7,513.7L881.2,531.7L862.2,531.7Z" fill="#000"/>
<path d="M912.1,475.5L921.6,493.5L902.6,493.5Z" fill="#000"/>
<path d="M913.6,486.9L923.1,504.9L904.1,504.9Z" fill="#000"/>
<path d="M927.5,520.2L937.0,538.2L918.0,538.2Z" fill="#000"/>
<path d="M899.6,523.4L909.1,541.4L890.1,541.4Z" fill="#000"/>
<path d="M916.8,538.4L926.3,556.4L907.3,556.4Z" fill="#000"/>
<path d="M910.3,545.9L919.8,563.9L900.8,563.9Z" fill="#000"/>
<path d="M950.7,534.6L960.2,552.6L941.2,552.6Z" fill="#000"/>
<path d="M952.2,544.9L961.7,562.9L942.7,562.9Z" fill="#000"/>
<path d="M965.1,557.3L974.6,575.3L955.6,575.3Z" fill="#000"/>
<path d="M938.3,562.1L947.8,580.1L928.8,580.1Z" fill="#000"/>
<path d="M955.5,565.3L965.0,583.3L946.0,583.3Z" fill="#000"/>
<path d="M949.0,584.6L958.5,602.6L939.5,602.6Z" fill="#000"/>
<path d="M989.2,599.2L998.7,617.2L979.7,617.2Z" fill="#000"/>
<path d="M990.5,610.4L1000.0,628.4L981.0,628.4Z" fill="#000"/>
<path d="M990.9,617.9L1000.4,635.9L981.4,635.9Z" fill="#000"/>
<path d="M1004.2,654.4L1013.7,672.4L994.7,672.4Z" fill="#000"/>
<path d="M975.9,665.8L985.4,683.8L966.4,683.8Z" fill="#000"/>
<path d="M993.1,674.9L1002.6,692.9L983.6,692.9Z" fill="#000"/>
<path d="M986.6,678.1L996.1,696.1L977.1,696.1Z" fill="#000"/>
<path d="M836.6,482.0V498.0" stroke="#000" stroke-width="5.0" fill="none"/><path d="M829.6,482.0H843.6M829.6,498.0H843.6" stroke="#000" stroke-width="5.0" stroke-linecap="round" fill="none"/><path d="M824.1,489.8H849.1" stroke="#000" stroke-width="5.4" fill="none"/>
<path d="M875.1,479.7V499.1" stroke="#000" stroke-width="5.0" fill="none"/><path d="M868.1,479.7H882.1M868.1,499.1H882.1" stroke="#000" stroke-width="5.0" stroke-linecap="round" fill="none"/><path d="M862.6,489.0H887.6" stroke="#000" stroke-width="5.4" fill="none"/>
<path d="M913.6,502.3V522.7" stroke="#000" stroke-width="5.0" fill="none"/><path d="M906.6,502.3H920.6M906.6,522.7H920.6" stroke="#000" stroke-width="5.0" stroke-linecap="round" fill="none"/><path d="M901.1,512.0H926.1" stroke="#000" stroke-width="5.4" fill="none"/>
<path d="M952.1,551.5V566.8" stroke="#000" stroke-width="5.0" fill="none"/><path d="M945.1,551.5H959.1M945.1,566.8H959.1" stroke="#000" stroke-width="5.0" stroke-linecap="round" fill="none"/><path d="M939.6,559.2H964.6" stroke="#000" stroke-width="5.4" fill="none"/>
<path d="M990.6,629.0V654.8" stroke="#000" stroke-width="5.0" fill="none"/><path d="M983.6,629.0H997.6M983.6,654.8H997.6" stroke="#000" stroke-width="5.0" stroke-linecap="round" fill="none"/><path d="M978.1,641.3H1003.1" stroke="#000" stroke-width="5.4" fill="none"/>
<path d="M164.05,993.7V1455.7" stroke="#000" stroke-width="5.9" stroke-linecap="butt" fill="none"/>
<path d="M161.1,1455.7H1030" stroke="#000" stroke-width="5.9" fill="none"/>
<path d="M148.10,1455.7H164.05" stroke="#000" stroke-width="5.9" stroke-linecap="round" fill="none"/>
<path d="M148.10,1340.2H164.05" stroke="#000" stroke-width="5.9" stroke-linecap="round" fill="none"/>
<path d="M148.10,1224.7H164.05" stroke="#000" stroke-width="5.9" stroke-linecap="round" fill="none"/>
<path d="M148.10,1109.2H164.05" stroke="#000" stroke-width="5.9" stroke-linecap="round" fill="none"/>
<path d="M148.10,993.7H164.05" stroke="#000" stroke-width="5.9" stroke-linecap="round" fill="none"/>
<path d="M156.00,1420.9H164.05" stroke="#000" stroke-width="5.6000000000000005" stroke-linecap="round" fill="none"/>
<path d="M156.00,1400.6H164.05" stroke="#000" stroke-width="5.6000000000000005" stroke-linecap="round" fill="none"/>
<path d="M156.00,1386.2H164.05" stroke="#000" stroke-width="5.6000000000000005" stroke-linecap="round" fill="none"/>
<path d="M156.00,1375.0H164.05" stroke="#000" stroke-width="5.6000000000000005" stroke-linecap="round" fill="none"/>
<path d="M156.00,1365.8H164.05" stroke="#000" stroke-width="5.6000000000000005" stroke-linecap="round" fill="none"/>
<path d="M156.00,1358.1H164.05" stroke="#000" stroke-width="5.6000000000000005" stroke-linecap="round" fill="none"/>
<path d="M156.00,1351.4H164.05" stroke="#000" stroke-width="5.6000000000000005" stroke-linecap="round" fill="none"/>
<path d="M156.00,1345.5H164.05" stroke="#000" stroke-width="5.6000000000000005" stroke-linecap="round" fill="none"/>
<path d="M156.00,1305.4H164.05" stroke="#000" stroke-width="5.6000000000000005" stroke-linecap="round" fill="none"/>
<path d="M156.00,1285.1H164.05" stroke="#000" stroke-width="5.6000000000000005" stroke-linecap="round" fill="none"/>
<path d="M156.00,1270.7H164.05" stroke="#000" stroke-width="5.6000000000000005" stroke-linecap="round" fill="none"/>
<path d="M156.00,1259.5H164.05" stroke="#000" stroke-width="5.6000000000000005" stroke-linecap="round" fill="none"/>
<path d="M156.00,1250.3H164.05" stroke="#000" stroke-width="5.6000000000000005" stroke-linecap="round" fill="none"/>
<path d="M156.00,1242.6H164.05" stroke="#000" stroke-width="5.6000000000000005" stroke-linecap="round" fill="none"/>
<path d="M156.00,1235.9H164.05" stroke="#000" stroke-width="5.6000000000000005" stroke-linecap="round" fill="none"/>
<path d="M156.00,1230.0H164.05" stroke="#000" stroke-width="5.6000000000000005" stroke-linecap="round" fill="none"/>
<path d="M156.00,1189.9H164.05" stroke="#000" stroke-width="5.6000000000000005" stroke-linecap="round" fill="none"/>
<path d="M156.00,1169.6H164.05" stroke="#000" stroke-width="5.6000000000000005" stroke-linecap="round" fill="none"/>
<path d="M156.00,1155.2H164.05" stroke="#000" stroke-width="5.6000000000000005" stroke-linecap="round" fill="none"/>
<path d="M156.00,1144.0H164.05" stroke="#000" stroke-width="5.6000000000000005" stroke-linecap="round" fill="none"/>
<path d="M156.00,1134.8H164.05" stroke="#000" stroke-width="5.6000000000000005" stroke-linecap="round" fill="none"/>
<path d="M156.00,1127.1H164.05" stroke="#000" stroke-width="5.6000000000000005" stroke-linecap="round" fill="none"/>
<path d="M156.00,1120.4H164.05" stroke="#000" stroke-width="5.6000000000000005" stroke-linecap="round" fill="none"/>
<path d="M156.00,1114.5H164.05" stroke="#000" stroke-width="5.6000000000000005" stroke-linecap="round" fill="none"/>
<path d="M156.00,1074.4H164.05" stroke="#000" stroke-width="5.6000000000000005" stroke-linecap="round" fill="none"/>
<path d="M156.00,1054.1H164.05" stroke="#000" stroke-width="5.6000000000000005" stroke-linecap="round" fill="none"/>
<path d="M156.00,1039.7H164.05" stroke="#000" stroke-width="5.6000000000000005" stroke-linecap="round" fill="none"/>
<path d="M156.00,1028.5H164.05" stroke="#000" stroke-width="5.6000000000000005" stroke-linecap="round" fill="none"/>
<path d="M156.00,1019.3H164.05" stroke="#000" stroke-width="5.6000000000000005" stroke-linecap="round" fill="none"/>
<path d="M156.00,1011.6H164.05" stroke="#000" stroke-width="5.6000000000000005" stroke-linecap="round" fill="none"/>
<path d="M156.00,1004.9H164.05" stroke="#000" stroke-width="5.6000000000000005" stroke-linecap="round" fill="none"/>
<path d="M156.00,999.0H164.05" stroke="#000" stroke-width="5.6000000000000005" stroke-linecap="round" fill="none"/>
<rect x="161.1" y="990.8" width="5.9" height="5.9" fill="#000"/>
<path d="M183.0,1455.7V1463.5" stroke="#000" stroke-width="5.4" stroke-linecap="round" fill="none"/>
<path d="M221.6,1455.7V1463.5" stroke="#000" stroke-width="5.4" stroke-linecap="round" fill="none"/>
<path d="M260.1,1455.7V1463.5" stroke="#000" stroke-width="5.4" stroke-linecap="round" fill="none"/>
<path d="M298.7,1455.7V1463.5" stroke="#000" stroke-width="5.4" stroke-linecap="round" fill="none"/>
<path d="M337.2,1455.7V1463.5" stroke="#000" stroke-width="5.4" stroke-linecap="round" fill="none"/>
<path d="M401.2,1455.7V1463.5" stroke="#000" stroke-width="5.4" stroke-linecap="round" fill="none"/>
<path d="M439.7,1455.7V1463.5" stroke="#000" stroke-width="5.4" stroke-linecap="round" fill="none"/>
<path d="M478.3,1455.7V1463.5" stroke="#000" stroke-width="5.4" stroke-linecap="round" fill="none"/>
<path d="M516.8,1455.7V1463.5" stroke="#000" stroke-width="5.4" stroke-linecap="round" fill="none"/>
<path d="M555.4,1455.7V1463.5" stroke="#000" stroke-width="5.4" stroke-linecap="round" fill="none"/>
<path d="M619.4,1455.7V1463.5" stroke="#000" stroke-width="5.4" stroke-linecap="round" fill="none"/>
<path d="M657.9,1455.7V1463.5" stroke="#000" stroke-width="5.4" stroke-linecap="round" fill="none"/>
<path d="M696.5,1455.7V1463.5" stroke="#000" stroke-width="5.4" stroke-linecap="round" fill="none"/>
<path d="M735.0,1455.7V1463.5" stroke="#000" stroke-width="5.4" stroke-linecap="round" fill="none"/>
<path d="M773.6,1455.7V1463.5" stroke="#000" stroke-width="5.4" stroke-linecap="round" fill="none"/>
<path d="M838.0,1455.7V1463.5" stroke="#000" stroke-width="5.4" stroke-linecap="round" fill="none"/>
<path d="M876.6,1455.7V1463.5" stroke="#000" stroke-width="5.4" stroke-linecap="round" fill="none"/>
<path d="M915.1,1455.7V1463.5" stroke="#000" stroke-width="5.4" stroke-linecap="round" fill="none"/>
<path d="M953.7,1455.7V1463.5" stroke="#000" stroke-width="5.4" stroke-linecap="round" fill="none"/>
<path d="M992.2,1455.7V1463.5" stroke="#000" stroke-width="5.4" stroke-linecap="round" fill="none"/>
<text x="174.23" y="1505.9" font-size="35"  style="font-family:'Liberation Sans',sans-serif">4</text>
<text x="212.22" y="1505.9" font-size="35"  style="font-family:'Liberation Sans',sans-serif">8</text>
<g transform="translate(244.23,1505.9)"><text x="0" y="0" font-size="35" clip-path="url(#c1_35)"  style="font-family:'Liberation Sans',sans-serif">1</text></g><text x="260.49" y="1505.9" font-size="35"  style="font-family:'Liberation Sans',sans-serif">2</text>
<text x="280.79 298.91" y="1505.9" font-size="35"  style="font-family:'Liberation Sans',sans-serif">24</text>
<text x="319.97 337.47" y="1505.9" font-size="35"  style="font-family:'Liberation Sans',sans-serif">36</text>
<text x="392.41" y="1505.9" font-size="35"  style="font-family:'Liberation Sans',sans-serif">4</text>
<text x="430.40" y="1505.9" font-size="35"  style="font-family:'Liberation Sans',sans-serif">8</text>
<g transform="translate(462.42,1505.9)"><text x="0" y="0" font-size="35" clip-path="url(#c1_35)"  style="font-family:'Liberation Sans',sans-serif">1</text></g><text x="478.68" y="1505.9" font-size="35"  style="font-family:'Liberation Sans',sans-serif">2</text>
<text x="498.97 517.09" y="1505.9" font-size="35"  style="font-family:'Liberation Sans',sans-serif">24</text>
<text x="538.15 555.66" y="1505.9" font-size="35"  style="font-family:'Liberation Sans',sans-serif">36</text>
<text x="610.59" y="1505.9" font-size="35"  style="font-family:'Liberation Sans',sans-serif">4</text>
<text x="648.58" y="1505.9" font-size="35"  style="font-family:'Liberation Sans',sans-serif">8</text>
<g transform="translate(680.60,1505.9)"><text x="0" y="0" font-size="35" clip-path="url(#c1_35)"  style="font-family:'Liberation Sans',sans-serif">1</text></g><text x="696.86" y="1505.9" font-size="35"  style="font-family:'Liberation Sans',sans-serif">2</text>
<text x="717.16 735.28" y="1505.9" font-size="35"  style="font-family:'Liberation Sans',sans-serif">24</text>
<text x="756.33 773.84" y="1505.9" font-size="35"  style="font-family:'Liberation Sans',sans-serif">36</text>
<text x="829.28" y="1505.9" font-size="35"  style="font-family:'Liberation Sans',sans-serif">4</text>
<text x="867.27" y="1505.9" font-size="35"  style="font-family:'Liberation Sans',sans-serif">8</text>
<g transform="translate(899.28,1505.9)"><text x="0" y="0" font-size="35" clip-path="url(#c1_35)"  style="font-family:'Liberation Sans',sans-serif">1</text></g><text x="915.54" y="1505.9" font-size="35"  style="font-family:'Liberation Sans',sans-serif">2</text>
<text x="935.84 953.96" y="1505.9" font-size="35"  style="font-family:'Liberation Sans',sans-serif">24</text>
<text x="975.02 992.52" y="1505.9" font-size="35"  style="font-family:'Liberation Sans',sans-serif">36</text>
<g transform="translate(85.43,1471.0)"><text x="0" y="0" font-size="35" clip-path="url(#c1_35)"  style="font-family:'Liberation Sans',sans-serif">1</text></g><text x="101.40" y="1471.0" font-size="35"  style="font-family:'Liberation Sans',sans-serif">0</text>
<text x="119.61" y="1458.4" font-size="25.5"  style="font-family:'Liberation Sans',sans-serif">0</text>
<g transform="translate(85.43,1355.5)"><text x="0" y="0" font-size="35" clip-path="url(#c1_35)"  style="font-family:'Liberation Sans',sans-serif">1</text></g><text x="101.40" y="1355.5" font-size="35"  style="font-family:'Liberation Sans',sans-serif">0</text>
<g transform="translate(119.26,1342.9)"><text x="0" y="0" font-size="25.5" clip-path="url(#c1_25_5)"  style="font-family:'Liberation Sans',sans-serif">1</text></g>
<g transform="translate(85.43,1240.0)"><text x="0" y="0" font-size="35" clip-path="url(#c1_35)"  style="font-family:'Liberation Sans',sans-serif">1</text></g><text x="101.40" y="1240.0" font-size="35"  style="font-family:'Liberation Sans',sans-serif">0</text>
<text x="119.61" y="1227.4" font-size="25.5"  style="font-family:'Liberation Sans',sans-serif">2</text>
<g transform="translate(85.43,1124.5)"><text x="0" y="0" font-size="35" clip-path="url(#c1_35)"  style="font-family:'Liberation Sans',sans-serif">1</text></g><text x="101.40" y="1124.5" font-size="35"  style="font-family:'Liberation Sans',sans-serif">0</text>
<text x="119.68" y="1111.9" font-size="25.5"  style="font-family:'Liberation Sans',sans-serif">3</text>
<g transform="translate(85.43,1009.0)"><text x="0" y="0" font-size="35" clip-path="url(#c1_35)"  style="font-family:'Liberation Sans',sans-serif">1</text></g><text x="101.40" y="1009.0" font-size="35"  style="font-family:'Liberation Sans',sans-serif">0</text>
<text x="119.69" y="996.4" font-size="25.5"  style="font-family:'Liberation Sans',sans-serif">4</text>
<text transform="translate(51.7,0) rotate(-90)" x="-1310.02 -1302.25 -1286.20 -1274.64 -1250.33 -1238.62 -1221.01 -1206.20 -1197.79 -1169.25 -1147.31" y="0" font-size="36" style="font-family:'Liberation Sans',sans-serif">IL-5(pg/mL)</text>
<path d="M179.9,1055.2H397.9" stroke="#000" stroke-width="4.2" stroke-linecap="butt" fill="none"/>
<path d="M281.35,1027.20L282.25,1018.10L277.95,1018.10L278.85,1027.20ZM280.49,1026.01L272.11,1022.34L270.78,1026.43L279.71,1028.39ZM279.09,1026.47L273.01,1033.30L276.49,1035.83L281.11,1027.93ZM279.09,1027.93L283.71,1035.83L287.19,1033.30L281.11,1026.47ZM280.49,1028.39L289.42,1026.43L288.09,1022.34L279.71,1026.01Z" fill="#000"/>
<circle cx="280.1" cy="1027.2" r="1.9" fill="#000"/>
<path d="M399.4,1023.0H839.2" stroke="#000" stroke-width="4.2" stroke-linecap="butt" fill="none"/>
<text x="589.44 609.38 619.44 637.38" y="1001.5" font-size="35.5"  style="font-family:'Liberation Sans',sans-serif">n.s.</text>
<circle cx="182.7" cy="1175.4" r="9.05" fill="none" stroke="#000" stroke-width="2.7"/>
<circle cx="168.3" cy="1213.4" r="9.05" fill="none" stroke="#000" stroke-width="2.7"/>
<circle cx="190.8" cy="1214.5" r="9.05" fill="none" stroke="#000" stroke-width="2.7"/>
<circle cx="182.2" cy="1212.3" r="9.05" fill="none" stroke="#000" stroke-width="2.7"/>
<circle cx="197.3" cy="1227.8" r="9.05" fill="none" stroke="#000" stroke-width="2.7"/>
<circle cx="167.2" cy="1229.5" r="9.05" fill="none" stroke="#000" stroke-width="2.7"/>
<circle cx="186.5" cy="1238.1" r="9.05" fill="none" stroke="#000" stroke-width="2.7"/>
<circle cx="179.6" cy="1246.7" r="9.05" fill="none" stroke="#000" stroke-width="2.7"/>
<circle cx="221.5" cy="1230.6" r="9.05" fill="none" stroke="#000" stroke-width="2.7"/>
<circle cx="206.3" cy="1270.3" r="9.05" fill="none" stroke="#000" stroke-width="2.7"/>
<circle cx="235.9" cy="1270.3" r="9.05" fill="none" stroke="#000" stroke-width="2.7"/>
<circle cx="218.8" cy="1276.8" r="9.05" fill="none" stroke="#000" stroke-width="2.7"/>
<circle cx="224.1" cy="1282.1" r="9.05" fill="none" stroke="#000" stroke-width="2.7"/>
<circle cx="235.3" cy="1288.6" r="9.05" fill="none" stroke="#000" stroke-width="2.7"/>
<circle cx="214.5" cy="1310.7" r="9.05" fill="none" stroke="#000" stroke-width="2.7"/>
<circle cx="245.6" cy="1307.9" r="9.05" fill="none" stroke="#000" stroke-width="2.7"/>
<circle cx="266.7" cy="1316.1" r="9.05" fill="none" stroke="#000" stroke-width="2.7"/>
<circle cx="259.6" cy="1336.9" r="9.05" fill="none" stroke="#000" stroke-width="2.7"/>
<circle cx="259.6" cy="1344.4" r="9.05" fill="none" stroke="#000" stroke-width="2.7"/>
<circle cx="259.6" cy="1352.0" r="9.05" fill="none" stroke="#000" stroke-width="2.7"/>
<circle cx="298.2" cy="1334.8" r="9.05" fill="none" stroke="#000" stroke-width="2.7"/>
<circle cx="298.2" cy="1340.1" r="9.05" fill="none" stroke="#000" stroke-width="2.7"/>
<circle cx="298.2" cy="1346.6" r="9.05" fill="none" stroke="#000" stroke-width="2.7"/>
<circle cx="298.2" cy="1352.0" r="9.05" fill="none" stroke="#000" stroke-width="2.7"/>
<circle cx="336.5" cy="1344.4" r="9.05" fill="none" stroke="#000" stroke-width="2.7"/>
<circle cx="336.5" cy="1348.7" r="9.05" fill="none" stroke="#000" stroke-width="2.7"/>
<circle cx="336.5" cy="1352.0" r="9.05" fill="none" stroke="#000" stroke-width="2.7"/>
<path d="M183.0,1208.0V1224.1" stroke="#000" stroke-width="5.0" fill="none"/><path d="M176.0,1208.0H190.0M176.0,1224.1H190.0" stroke="#000" stroke-width="5.0" stroke-linecap="round" fill="none"/><path d="M170.5,1215.5H195.5" stroke="#000" stroke-width="5.4" fill="none"/>
<path d="M221.6,1260.6V1282.1" stroke="#000" stroke-width="5.0" fill="none"/><path d="M214.6,1260.6H228.6M214.6,1282.1H228.6" stroke="#000" stroke-width="5.0" stroke-linecap="round" fill="none"/><path d="M209.1,1271.4H234.1" stroke="#000" stroke-width="5.4" fill="none"/>
<path d="M260.1,1327.2V1340.1" stroke="#000" stroke-width="5.0" fill="none"/><path d="M253.1,1327.2H267.1M253.1,1340.1H267.1" stroke="#000" stroke-width="5.0" stroke-linecap="round" fill="none"/><path d="M247.6,1333.7H272.6" stroke="#000" stroke-width="5.4" fill="none"/>
<path d="M298.7,1341.5V1346.5" stroke="#000" stroke-width="5.0" fill="none"/><path d="M291.7,1341.5H305.7M291.7,1346.5H305.7" stroke="#000" stroke-width="5.0" stroke-linecap="round" fill="none"/><path d="M286.2,1344.0H311.2" stroke="#000" stroke-width="5.4" fill="none"/>
<path d="M337.2,1346.0V1348.5" stroke="#000" stroke-width="5.0" fill="none"/><path d="M330.2,1346.0H344.2M330.2,1348.5H344.2" stroke="#000" stroke-width="5.0" stroke-linecap="round" fill="none"/><path d="M324.7,1347.2H349.7" stroke="#000" stroke-width="5.4" fill="none"/>
<circle cx="400.5" cy="1083.6" r="9.3" fill="#000"/>
<circle cx="401.2" cy="1092.2" r="9.3" fill="#000"/>
<circle cx="387.2" cy="1113.7" r="9.3" fill="#000"/>
<circle cx="415.1" cy="1107.3" r="9.3" fill="#000"/>
<circle cx="400.1" cy="1109.4" r="9.3" fill="#000"/>
<circle cx="397.9" cy="1123.4" r="9.3" fill="#000"/>
<circle cx="439.2" cy="1113.7" r="9.3" fill="#000"/>
<circle cx="439.2" cy="1124.5" r="9.3" fill="#000"/>
<circle cx="439.2" cy="1134.1" r="9.3" fill="#000"/>
<circle cx="439.2" cy="1139.5" r="9.3" fill="#000"/>
<circle cx="478.1" cy="1142.7" r="9.3" fill="#000"/>
<circle cx="492.0" cy="1204.4" r="9.3" fill="#000"/>
<circle cx="471.0" cy="1213.0" r="9.3" fill="#000"/>
<circle cx="478.1" cy="1254.4" r="9.3" fill="#000"/>
<circle cx="478.5" cy="1267.3" r="9.3" fill="#000"/>
<circle cx="478.1" cy="1284.5" r="9.3" fill="#000"/>
<circle cx="516.7" cy="1250.1" r="9.3" fill="#000"/>
<circle cx="516.7" cy="1298.5" r="9.3" fill="#000"/>
<circle cx="516.7" cy="1320.0" r="9.3" fill="#000"/>
<circle cx="516.7" cy="1339.3" r="9.3" fill="#000"/>
<circle cx="516.7" cy="1352.2" r="9.3" fill="#000"/>
<circle cx="541.2" cy="1330.3" r="9.3" fill="#000"/>
<circle cx="562.3" cy="1335.0" r="9.3" fill="#000"/>
<circle cx="555.2" cy="1350.0" r="9.3" fill="#000"/>
<circle cx="555.2" cy="1366.2" r="9.3" fill="#000"/>
<path d="M401.2,1096.0V1108.0" stroke="#000" stroke-width="5.0" fill="none"/><path d="M394.2,1096.0H408.2M394.2,1108.0H408.2" stroke="#000" stroke-width="5.0" stroke-linecap="round" fill="none"/><path d="M388.7,1101.9H413.7" stroke="#000" stroke-width="5.4" fill="none"/>
<path d="M439.7,1123.0V1131.0" stroke="#000" stroke-width="5.0" fill="none"/><path d="M432.7,1123.0H446.7M432.7,1131.0H446.7" stroke="#000" stroke-width="5.0" stroke-linecap="round" fill="none"/><path d="M427.2,1127.0H452.2" stroke="#000" stroke-width="5.4" fill="none"/>
<path d="M478.3,1190.0V1241.5" stroke="#000" stroke-width="5.0" fill="none"/><path d="M471.3,1190.0H485.3M471.3,1241.5H485.3" stroke="#000" stroke-width="5.0" stroke-linecap="round" fill="none"/><path d="M465.8,1209.4H490.8" stroke="#000" stroke-width="5.4" fill="none"/>
<path d="M516.8,1289.5V1320.0" stroke="#000" stroke-width="5.0" fill="none"/><path d="M509.8,1289.5H523.8M509.8,1320.0H523.8" stroke="#000" stroke-width="5.0" stroke-linecap="round" fill="none"/><path d="M504.3,1303.9H529.3" stroke="#000" stroke-width="5.4" fill="none"/>
<path d="M555.4,1337.0V1350.0" stroke="#000" stroke-width="5.0" fill="none"/><path d="M548.4,1337.0H562.4M548.4,1350.0H562.4" stroke="#000" stroke-width="5.0" stroke-linecap="round" fill="none"/><path d="M542.9,1343.6H567.9" stroke="#000" stroke-width="5.4" fill="none"/>
<path d="M619.4,1223.6L627.5,1239.5L611.3,1239.5Z" fill="none" stroke="#000" stroke-width="2.7" stroke-linejoin="miter"/>
<path d="M617.9,1278.9L626.0,1294.8L609.8,1294.8Z" fill="none" stroke="#000" stroke-width="2.7" stroke-linejoin="miter"/>
<path d="M617.9,1304.0L626.0,1319.8L609.8,1319.8Z" fill="none" stroke="#000" stroke-width="2.7" stroke-linejoin="miter"/>
<path d="M619.9,1313.4L628.0,1329.2L611.8,1329.2Z" fill="none" stroke="#000" stroke-width="2.7" stroke-linejoin="miter"/>
<path d="M633.4,1338.6L641.5,1354.5L625.3,1354.5Z" fill="none" stroke="#000" stroke-width="2.7" stroke-linejoin="miter"/>
<path d="M613.0,1344.6L621.1,1360.5L604.9,1360.5Z" fill="none" stroke="#000" stroke-width="2.7" stroke-linejoin="miter"/>
<path d="M658.1,1270.2L666.2,1286.0L650.0,1286.0Z" fill="none" stroke="#000" stroke-width="2.7" stroke-linejoin="miter"/>
<path d="M658.1,1303.8L666.2,1319.7L650.0,1319.7Z" fill="none" stroke="#000" stroke-width="2.7" stroke-linejoin="miter"/>
<path d="M658.1,1321.8L666.2,1337.7L650.0,1337.7Z" fill="none" stroke="#000" stroke-width="2.7" stroke-linejoin="miter"/>
<path d="M658.1,1330.4L666.2,1346.2L650.0,1346.2Z" fill="none" stroke="#000" stroke-width="2.7" stroke-linejoin="miter"/>
<path d="M658.1,1337.9L666.2,1353.8L650.0,1353.8Z" fill="none" stroke="#000" stroke-width="2.7" stroke-linejoin="miter"/>
<path d="M658.1,1345.4L666.2,1361.2L650.0,1361.2Z" fill="none" stroke="#000" stroke-width="2.7" stroke-linejoin="miter"/>
<path d="M696.3,1332.8L704.4,1348.7L688.2,1348.7Z" fill="none" stroke="#000" stroke-width="2.7" stroke-linejoin="miter"/>
<path d="M696.3,1343.3L704.4,1359.2L688.2,1359.2Z" fill="none" stroke="#000" stroke-width="2.7" stroke-linejoin="miter"/>
<path d="M696.3,1351.9L704.4,1367.8L688.2,1367.8Z" fill="none" stroke="#000" stroke-width="2.7" stroke-linejoin="miter"/>
<path d="M696.3,1359.4L704.4,1375.2L688.2,1375.2Z" fill="none" stroke="#000" stroke-width="2.7" stroke-linejoin="miter"/>
<path d="M735.0,1332.8L743.1,1348.7L726.9,1348.7Z" fill="none" stroke="#000" stroke-width="2.7" stroke-linejoin="miter"/>
<path d="M735.0,1343.3L743.1,1359.2L726.9,1359.2Z" fill="none" stroke="#000" stroke-width="2.7" stroke-linejoin="miter"/>
<path d="M735.0,1351.9L743.1,1367.8L726.9,1367.8Z" fill="none" stroke="#000" stroke-width="2.7" stroke-linejoin="miter"/>
<path d="M735.0,1359.4L743.1,1375.2L726.9,1375.2Z" fill="none" stroke="#000" stroke-width="2.7" stroke-linejoin="miter"/>
<path d="M773.7,1332.8L781.8,1348.7L765.6,1348.7Z" fill="none" stroke="#000" stroke-width="2.7" stroke-linejoin="miter"/>
<path d="M773.7,1343.9L781.8,1359.8L765.6,1359.8Z" fill="none" stroke="#000" stroke-width="2.7" stroke-linejoin="miter"/>
<path d="M773.7,1351.9L781.8,1367.8L765.6,1367.8Z" fill="none" stroke="#000" stroke-width="2.7" stroke-linejoin="miter"/>
<path d="M773.7,1359.4L781.8,1375.2L765.6,1375.2Z" fill="none" stroke="#000" stroke-width="2.7" stroke-linejoin="miter"/>
<path d="M619.4,1275.2V1320.0" stroke="#000" stroke-width="5.0" fill="none"/><path d="M612.4,1275.2H626.4M612.4,1320.0H626.4" stroke="#000" stroke-width="5.0" stroke-linecap="round" fill="none"/><path d="M606.9,1292.4H631.9" stroke="#000" stroke-width="5.4" fill="none"/>
<path d="M657.9,1310.6V1334.3" stroke="#000" stroke-width="5.0" fill="none"/><path d="M650.9,1310.6H664.9M650.9,1334.3H664.9" stroke="#000" stroke-width="5.0" stroke-linecap="round" fill="none"/><path d="M645.4,1322.5H670.4" stroke="#000" stroke-width="5.4" fill="none"/>
<path d="M696.5,1346.5V1353.5" stroke="#000" stroke-width="5.0" fill="none"/><path d="M689.5,1346.5H703.5M689.5,1353.5H703.5" stroke="#000" stroke-width="5.0" stroke-linecap="round" fill="none"/><path d="M684.0,1350.0H709.0" stroke="#000" stroke-width="5.4" fill="none"/>
<path d="M735.0,1346.5V1353.5" stroke="#000" stroke-width="5.0" fill="none"/><path d="M728.0,1346.5H742.0M728.0,1353.5H742.0" stroke="#000" stroke-width="5.0" stroke-linecap="round" fill="none"/><path d="M722.5,1350.0H747.5" stroke="#000" stroke-width="5.4" fill="none"/>
<path d="M773.6,1351.0V1357.5" stroke="#000" stroke-width="5.0" fill="none"/><path d="M766.6,1351.0H780.6M766.6,1357.5H780.6" stroke="#000" stroke-width="5.0" stroke-linecap="round" fill="none"/><path d="M761.1,1354.3H786.1" stroke="#000" stroke-width="5.4" fill="none"/>
<path d="M830.9,1054.6L840.4,1072.6L821.4,1072.6Z" fill="#000"/>
<path d="M851.7,1054.0L861.2,1072.0L842.2,1072.0Z" fill="#000"/>
<path d="M823.8,1141.0L833.3,1159.0L814.3,1159.0Z" fill="#000"/>
<path d="M841.6,1142.9L851.1,1160.9L832.1,1160.9Z" fill="#000"/>
<path d="M834.7,1148.1L844.2,1166.1L825.2,1166.1Z" fill="#000"/>
<path d="M851.3,1124.5L860.8,1142.5L841.8,1142.5Z" fill="#000"/>
<path d="M837.3,1121.2L846.8,1139.2L827.8,1139.2Z" fill="#000"/>
<path d="M889.9,1074.0L899.4,1092.0L880.4,1092.0Z" fill="#000"/>
<path d="M869.5,1087.9L879.0,1105.9L860.0,1105.9Z" fill="#000"/>
<path d="M860.9,1125.3L870.4,1143.3L851.4,1143.3Z" fill="#000"/>
<path d="M883.5,1133.0L893.0,1151.0L874.0,1151.0Z" fill="#000"/>
<path d="M877.0,1152.4L886.5,1170.4L867.5,1170.4Z" fill="#000"/>
<path d="M875.5,1175.4L885.0,1193.4L866.0,1193.4Z" fill="#000"/>
<path d="M876.6,1179.2L886.1,1197.2L867.1,1197.2Z" fill="#000"/>
<path d="M914.6,1110.9L924.1,1128.9L905.1,1128.9Z" fill="#000"/>
<path d="M914.6,1140.4L924.1,1158.4L905.1,1158.4Z" fill="#000"/>
<path d="M914.6,1191.1L924.1,1209.1L905.1,1209.1Z" fill="#000"/>
<path d="M914.6,1198.6L924.1,1216.6L905.1,1216.6Z" fill="#000"/>
<path d="M928.6,1206.1L938.1,1224.1L919.1,1224.1Z" fill="#000"/>
<path d="M908.2,1228.4L917.7,1246.4L898.7,1246.4Z" fill="#000"/>
<path d="M953.3,1275.9L962.8,1293.9L943.8,1293.9Z" fill="#000"/>
<path d="M953.3,1288.8L962.8,1306.8L943.8,1306.8Z" fill="#000"/>
<path d="M953.3,1297.4L962.8,1315.4L943.8,1315.4Z" fill="#000"/>
<path d="M953.3,1312.5L962.8,1330.5L943.8,1330.5Z" fill="#000"/>
<path d="M953.3,1331.8L962.8,1349.8L943.8,1349.8Z" fill="#000"/>
<path d="M953.3,1342.5L962.8,1360.5L943.8,1360.5Z" fill="#000"/>
<path d="M992.0,1256.2L1001.5,1274.2L982.5,1274.2Z" fill="#000"/>
<path d="M992.0,1328.6L1001.5,1346.6L982.5,1346.6Z" fill="#000"/>
<path d="M992.0,1336.1L1001.5,1354.1L982.5,1354.1Z" fill="#000"/>
<path d="M992.0,1342.5L1001.5,1360.5L982.5,1360.5Z" fill="#000"/>
<path d="M992.0,1349.0L1001.5,1367.0L982.5,1367.0Z" fill="#000"/>
<path d="M992.0,1357.3L1001.5,1375.3L982.5,1375.3Z" fill="#000"/>
<path d="M838.0,1090.5V1125.9" stroke="#000" stroke-width="5.0" fill="none"/><path d="M831.0,1090.5H845.0M831.0,1125.9H845.0" stroke="#000" stroke-width="5.0" stroke-linecap="round" fill="none"/><path d="M825.5,1105.1H850.5" stroke="#000" stroke-width="5.4" fill="none"/>
<path d="M876.6,1114.1V1145.3" stroke="#000" stroke-width="5.0" fill="none"/><path d="M869.6,1114.1H883.6M869.6,1145.3H883.6" stroke="#000" stroke-width="5.0" stroke-linecap="round" fill="none"/><path d="M864.1,1127.7H889.1" stroke="#000" stroke-width="5.4" fill="none"/>
<path d="M915.1,1157.0V1194.3" stroke="#000" stroke-width="5.0" fill="none"/><path d="M908.1,1157.0H922.1M908.1,1194.3H922.1" stroke="#000" stroke-width="5.0" stroke-linecap="round" fill="none"/><path d="M902.6,1172.1H927.6" stroke="#000" stroke-width="5.4" fill="none"/>
<path d="M953.7,1301.0V1324.7" stroke="#000" stroke-width="5.0" fill="none"/><path d="M946.7,1301.0H960.7M946.7,1324.7H960.7" stroke="#000" stroke-width="5.0" stroke-linecap="round" fill="none"/><path d="M941.2,1312.9H966.2" stroke="#000" stroke-width="5.4" fill="none"/>
<path d="M992.2,1306.4V1338.6" stroke="#000" stroke-width="5.0" fill="none"/><path d="M985.2,1306.4H999.2M985.2,1338.6H999.2" stroke="#000" stroke-width="5.0" stroke-linecap="round" fill="none"/><path d="M979.8,1322.1H1004.8" stroke="#000" stroke-width="5.4" fill="none"/>
<path d="M162.65,1608.0V2070.1" stroke="#000" stroke-width="5.9" stroke-linecap="butt" fill="none"/>
<path d="M159.7,2070.1H1021.4" stroke="#000" stroke-width="5.9" fill="none"/>
<path d="M146.70,2070.1H162.65" stroke="#000" stroke-width="5.9" stroke-linecap="round" fill="none"/>
<path d="M146.70,1977.6H162.65" stroke="#000" stroke-width="5.9" stroke-linecap="round" fill="none"/>
<path d="M146.70,1885.2H162.65" stroke="#000" stroke-width="5.9" stroke-linecap="round" fill="none"/>
<path d="M146.70,1792.8H162.65" stroke="#000" stroke-width="5.9" stroke-linecap="round" fill="none"/>
<path d="M146.70,1700.4H162.65" stroke="#000" stroke-width="5.9" stroke-linecap="round" fill="none"/>
<path d="M146.70,1608.0H162.65" stroke="#000" stroke-width="5.9" stroke-linecap="round" fill="none"/>
<path d="M154.50,2023.8H162.65" stroke="#000" stroke-width="5.6000000000000005" stroke-linecap="round" fill="none"/>
<path d="M154.50,1931.4H162.65" stroke="#000" stroke-width="5.6000000000000005" stroke-linecap="round" fill="none"/>
<path d="M154.50,1839.0H162.65" stroke="#000" stroke-width="5.6000000000000005" stroke-linecap="round" fill="none"/>
<path d="M154.50,1746.6H162.65" stroke="#000" stroke-width="5.6000000000000005" stroke-linecap="round" fill="none"/>
<path d="M154.50,1654.2H162.65" stroke="#000" stroke-width="5.6000000000000005" stroke-linecap="round" fill="none"/>
<rect x="159.7" y="1605.0" width="5.9" height="5.9" fill="#000"/>
<path d="M181.4,2070.1V2077.9" stroke="#000" stroke-width="5.4" stroke-linecap="round" fill="none"/>
<path d="M219.8,2070.1V2077.9" stroke="#000" stroke-width="5.4" stroke-linecap="round" fill="none"/>
<path d="M258.2,2070.1V2077.9" stroke="#000" stroke-width="5.4" stroke-linecap="round" fill="none"/>
<path d="M296.7,2070.1V2077.9" stroke="#000" stroke-width="5.4" stroke-linecap="round" fill="none"/>
<path d="M335.1,2070.1V2077.9" stroke="#000" stroke-width="5.4" stroke-linecap="round" fill="none"/>
<path d="M398.9,2070.1V2077.9" stroke="#000" stroke-width="5.4" stroke-linecap="round" fill="none"/>
<path d="M437.3,2070.1V2077.9" stroke="#000" stroke-width="5.4" stroke-linecap="round" fill="none"/>
<path d="M475.7,2070.1V2077.9" stroke="#000" stroke-width="5.4" stroke-linecap="round" fill="none"/>
<path d="M514.1,2070.1V2077.9" stroke="#000" stroke-width="5.4" stroke-linecap="round" fill="none"/>
<path d="M552.6,2070.1V2077.9" stroke="#000" stroke-width="5.4" stroke-linecap="round" fill="none"/>
<path d="M616.3,2070.1V2077.9" stroke="#000" stroke-width="5.4" stroke-linecap="round" fill="none"/>
<path d="M654.8,2070.1V2077.9" stroke="#000" stroke-width="5.4" stroke-linecap="round" fill="none"/>
<path d="M693.2,2070.1V2077.9" stroke="#000" stroke-width="5.4" stroke-linecap="round" fill="none"/>
<path d="M731.6,2070.1V2077.9" stroke="#000" stroke-width="5.4" stroke-linecap="round" fill="none"/>
<path d="M770.0,2070.1V2077.9" stroke="#000" stroke-width="5.4" stroke-linecap="round" fill="none"/>
<path d="M834.3,2070.1V2077.9" stroke="#000" stroke-width="5.4" stroke-linecap="round" fill="none"/>
<path d="M872.7,2070.1V2077.9" stroke="#000" stroke-width="5.4" stroke-linecap="round" fill="none"/>
<path d="M911.2,2070.1V2077.9" stroke="#000" stroke-width="5.4" stroke-linecap="round" fill="none"/>
<path d="M949.6,2070.1V2077.9" stroke="#000" stroke-width="5.4" stroke-linecap="round" fill="none"/>
<path d="M988.0,2070.1V2077.9" stroke="#000" stroke-width="5.4" stroke-linecap="round" fill="none"/>
<text x="172.63" y="2120.2" font-size="35"  style="font-family:'Liberation Sans',sans-serif">4</text>
<text x="210.49" y="2120.2" font-size="35"  style="font-family:'Liberation Sans',sans-serif">8</text>
<g transform="translate(242.38,2120.2)"><text x="0" y="0" font-size="35" clip-path="url(#c1_35)"  style="font-family:'Liberation Sans',sans-serif">1</text></g><text x="258.64" y="2120.2" font-size="35"  style="font-family:'Liberation Sans',sans-serif">2</text>
<text x="278.81 296.93" y="2120.2" font-size="35"  style="font-family:'Liberation Sans',sans-serif">24</text>
<text x="317.86 335.37" y="2120.2" font-size="35"  style="font-family:'Liberation Sans',sans-serif">36</text>
<text x="390.10" y="2120.2" font-size="35"  style="font-family:'Liberation Sans',sans-serif">4</text>
<text x="427.96" y="2120.2" font-size="35"  style="font-family:'Liberation Sans',sans-serif">8</text>
<g transform="translate(459.85,2120.2)"><text x="0" y="0" font-size="35" clip-path="url(#c1_35)"  style="font-family:'Liberation Sans',sans-serif">1</text></g><text x="476.11" y="2120.2" font-size="35"  style="font-family:'Liberation Sans',sans-serif">2</text>
<text x="496.28 514.40" y="2120.2" font-size="35"  style="font-family:'Liberation Sans',sans-serif">24</text>
<text x="535.33 552.84" y="2120.2" font-size="35"  style="font-family:'Liberation Sans',sans-serif">36</text>
<text x="607.57" y="2120.2" font-size="35"  style="font-family:'Liberation Sans',sans-serif">4</text>
<text x="645.43" y="2120.2" font-size="35"  style="font-family:'Liberation Sans',sans-serif">8</text>
<g transform="translate(677.32,2120.2)"><text x="0" y="0" font-size="35" clip-path="url(#c1_35)"  style="font-family:'Liberation Sans',sans-serif">1</text></g><text x="693.58" y="2120.2" font-size="35"  style="font-family:'Liberation Sans',sans-serif">2</text>
<text x="713.75 731.87" y="2120.2" font-size="35"  style="font-family:'Liberation Sans',sans-serif">24</text>
<text x="752.80 770.31" y="2120.2" font-size="35"  style="font-family:'Liberation Sans',sans-serif">36</text>
<text x="825.53" y="2120.2" font-size="35"  style="font-family:'Liberation Sans',sans-serif">4</text>
<text x="863.40" y="2120.2" font-size="35"  style="font-family:'Liberation Sans',sans-serif">8</text>
<g transform="translate(895.29,2120.2)"><text x="0" y="0" font-size="35" clip-path="url(#c1_35)"  style="font-family:'Liberation Sans',sans-serif">1</text></g><text x="911.55" y="2120.2" font-size="35"  style="font-family:'Liberation Sans',sans-serif">2</text>
<text x="931.72 949.84" y="2120.2" font-size="35"  style="font-family:'Liberation Sans',sans-serif">24</text>
<text x="970.77 988.27" y="2120.2" font-size="35"  style="font-family:'Liberation Sans',sans-serif">36</text>
<text x="112.57" y="2083.2" font-size="35"  style="font-family:'Liberation Sans',sans-serif">0</text>
<text x="112.60" y="1990.7" font-size="35"  style="font-family:'Liberation Sans',sans-serif">5</text>
<g transform="translate(96.13,1898.3)"><text x="0" y="0" font-size="35" clip-path="url(#c1_35)"  style="font-family:'Liberation Sans',sans-serif">1</text></g><text x="112.80" y="1898.3" font-size="35"  style="font-family:'Liberation Sans',sans-serif">0</text>
<g transform="translate(96.13,1805.9)"><text x="0" y="0" font-size="35" clip-path="url(#c1_35)"  style="font-family:'Liberation Sans',sans-serif">1</text></g><text x="112.90" y="1805.9" font-size="35"  style="font-family:'Liberation Sans',sans-serif">5</text>
<text x="94.94 112.80" y="1713.5" font-size="35"  style="font-family:'Liberation Sans',sans-serif">20</text>
<text x="94.94 112.90" y="1621.1" font-size="35"  style="font-family:'Liberation Sans',sans-serif">25</text>
<text transform="translate(62.3,0) rotate(-90)" x="-1968.16 -1948.22 -1939.59 -1932.28 -1903.23 -1886.21 -1879.26 -1864.92 -1854.59 -1849.04 -1830.38 -1806.59 -1798.98 -1782.54 -1766.16 -1749.19" y="0" font-size="34.3" style="font-family:'Liberation Sans',sans-serif">Stimulationindex</text>
<path d="M181.9,1791.9H399.3" stroke="#000" stroke-width="4.2" stroke-linecap="butt" fill="none"/>
<path d="M282.25,1763.20L283.15,1754.10L278.85,1754.10L279.75,1763.20ZM281.39,1762.01L273.01,1758.34L271.68,1762.43L280.61,1764.39ZM279.99,1762.47L273.91,1769.30L277.39,1771.83L282.01,1763.93ZM279.99,1763.93L284.61,1771.83L288.09,1769.30L282.01,1762.47ZM281.39,1764.39L290.32,1762.43L288.99,1758.34L280.61,1762.01Z" fill="#000"/>
<circle cx="281.0" cy="1763.2" r="1.9" fill="#000"/>
<path d="M399.3,1637.6H838.1" stroke="#000" stroke-width="4.2" stroke-linecap="butt" fill="none"/>
<path d="M622.75,1611.20L623.65,1602.10L619.35,1602.10L620.25,1611.20ZM621.89,1610.01L613.51,1606.34L612.18,1610.43L621.11,1612.39ZM620.49,1610.47L614.41,1617.30L617.89,1619.83L622.51,1611.93ZM620.49,1611.93L625.11,1619.83L628.59,1617.30L622.51,1610.47ZM621.89,1612.39L630.82,1610.43L629.49,1606.34L621.11,1610.01Z" fill="#000"/>
<circle cx="621.5" cy="1611.2" r="1.9" fill="#000"/>
<circle cx="182.1" cy="1989.0" r="9.05" fill="none" stroke="#000" stroke-width="2.7"/>
<circle cx="182.1" cy="1992.2" r="9.05" fill="none" stroke="#000" stroke-width="2.7"/>
<circle cx="182.1" cy="1996.5" r="9.05" fill="none" stroke="#000" stroke-width="2.7"/>
<circle cx="182.1" cy="2003.0" r="9.05" fill="none" stroke="#000" stroke-width="2.7"/>
<circle cx="182.1" cy="2006.0" r="9.05" fill="none" stroke="#000" stroke-width="2.7"/>
<circle cx="182.1" cy="2009.4" r="9.05" fill="none" stroke="#000" stroke-width="2.7"/>
<circle cx="182.1" cy="2013.0" r="9.05" fill="none" stroke="#000" stroke-width="2.7"/>
<circle cx="182.1" cy="2015.9" r="9.05" fill="none" stroke="#000" stroke-width="2.7"/>
<circle cx="182.1" cy="2021.2" r="9.05" fill="none" stroke="#000" stroke-width="2.7"/>
<circle cx="220.6" cy="2005.1" r="9.05" fill="none" stroke="#000" stroke-width="2.7"/>
<circle cx="220.6" cy="2010.5" r="9.05" fill="none" stroke="#000" stroke-width="2.7"/>
<circle cx="220.6" cy="2014.0" r="9.05" fill="none" stroke="#000" stroke-width="2.7"/>
<circle cx="220.6" cy="2018.0" r="9.05" fill="none" stroke="#000" stroke-width="2.7"/>
<circle cx="220.6" cy="2021.0" r="9.05" fill="none" stroke="#000" stroke-width="2.7"/>
<circle cx="220.6" cy="2024.5" r="9.05" fill="none" stroke="#000" stroke-width="2.7"/>
<circle cx="220.6" cy="2029.0" r="9.05" fill="none" stroke="#000" stroke-width="2.7"/>
<circle cx="220.6" cy="2033.0" r="9.05" fill="none" stroke="#000" stroke-width="2.7"/>
<circle cx="220.6" cy="2037.3" r="9.05" fill="none" stroke="#000" stroke-width="2.7"/>
<circle cx="243.5" cy="2053.5" r="9.05" fill="none" stroke="#000" stroke-width="2.7"/>
<circle cx="251.0" cy="2050.2" r="9.05" fill="none" stroke="#000" stroke-width="2.7"/>
<circle cx="264.9" cy="2047.0" r="9.05" fill="none" stroke="#000" stroke-width="2.7"/>
<circle cx="258.5" cy="2056.7" r="9.05" fill="none" stroke="#000" stroke-width="2.7"/>
<circle cx="270.3" cy="2052.4" r="9.05" fill="none" stroke="#000" stroke-width="2.7"/>
<circle cx="257.5" cy="2051.0" r="9.05" fill="none" stroke="#000" stroke-width="2.7"/>
<circle cx="282.1" cy="2053.5" r="9.05" fill="none" stroke="#000" stroke-width="2.7"/>
<circle cx="289.7" cy="2052.4" r="9.05" fill="none" stroke="#000" stroke-width="2.7"/>
<circle cx="303.0" cy="2047.0" r="9.05" fill="none" stroke="#000" stroke-width="2.7"/>
<circle cx="297.2" cy="2057.8" r="9.05" fill="none" stroke="#000" stroke-width="2.7"/>
<circle cx="309.0" cy="2051.3" r="9.05" fill="none" stroke="#000" stroke-width="2.7"/>
<circle cx="320.8" cy="2053.5" r="9.05" fill="none" stroke="#000" stroke-width="2.7"/>
<circle cx="328.3" cy="2052.4" r="9.05" fill="none" stroke="#000" stroke-width="2.7"/>
<circle cx="341.2" cy="2045.9" r="9.05" fill="none" stroke="#000" stroke-width="2.7"/>
<circle cx="335.8" cy="2057.8" r="9.05" fill="none" stroke="#000" stroke-width="2.7"/>
<circle cx="349.8" cy="2053.5" r="9.05" fill="none" stroke="#000" stroke-width="2.7"/>
<path d="M181.4,2004.5V2010.0" stroke="#000" stroke-width="5.0" fill="none"/><path d="M174.4,2004.5H188.4M174.4,2010.0H188.4" stroke="#000" stroke-width="5.0" stroke-linecap="round" fill="none"/><path d="M168.9,2007.3H193.9" stroke="#000" stroke-width="5.4" fill="none"/>
<path d="M219.8,2021.0V2027.0" stroke="#000" stroke-width="5.0" fill="none"/><path d="M212.8,2021.0H226.8M212.8,2027.0H226.8" stroke="#000" stroke-width="5.0" stroke-linecap="round" fill="none"/><path d="M207.3,2024.0H232.3" stroke="#000" stroke-width="5.4" fill="none"/>
<path d="M258.2,2051.0V2054.0" stroke="#000" stroke-width="5.0" fill="none"/><path d="M251.2,2051.0H265.2M251.2,2054.0H265.2" stroke="#000" stroke-width="5.0" stroke-linecap="round" fill="none"/><path d="M245.7,2052.4H270.7" stroke="#000" stroke-width="5.4" fill="none"/>
<path d="M296.7,2051.0V2054.0" stroke="#000" stroke-width="5.0" fill="none"/><path d="M289.7,2051.0H303.7M289.7,2054.0H303.7" stroke="#000" stroke-width="5.0" stroke-linecap="round" fill="none"/><path d="M284.2,2052.4H309.2" stroke="#000" stroke-width="5.4" fill="none"/>
<path d="M335.1,2051.0V2054.0" stroke="#000" stroke-width="5.0" fill="none"/><path d="M328.1,2051.0H342.1M328.1,2054.0H342.1" stroke="#000" stroke-width="5.0" stroke-linecap="round" fill="none"/><path d="M322.6,2052.4H347.6" stroke="#000" stroke-width="5.4" fill="none"/>
<circle cx="398.8" cy="1830.3" r="9.3" fill="#000"/>
<circle cx="384.8" cy="1858.2" r="9.3" fill="#000"/>
<circle cx="405.4" cy="1876.3" r="9.3" fill="#000"/>
<circle cx="400.1" cy="1903.1" r="9.3" fill="#000"/>
<circle cx="397.7" cy="1909.6" r="9.3" fill="#000"/>
<circle cx="398.8" cy="1924.6" r="9.3" fill="#000"/>
<circle cx="437.2" cy="1916.9" r="9.3" fill="#000"/>
<circle cx="437.2" cy="1934.1" r="9.3" fill="#000"/>
<circle cx="437.2" cy="1945.9" r="9.3" fill="#000"/>
<circle cx="437.2" cy="1954.5" r="9.3" fill="#000"/>
<circle cx="437.2" cy="1962.0" r="9.3" fill="#000"/>
<circle cx="474.6" cy="1959.3" r="9.3" fill="#000"/>
<circle cx="476.3" cy="1973.9" r="9.3" fill="#000"/>
<circle cx="475.3" cy="1986.8" r="9.3" fill="#000"/>
<circle cx="475.3" cy="2000.7" r="9.3" fill="#000"/>
<circle cx="475.3" cy="2008.2" r="9.3" fill="#000"/>
<circle cx="475.3" cy="2016.8" r="9.3" fill="#000"/>
<circle cx="500.0" cy="2005.7" r="9.3" fill="#000"/>
<circle cx="510.7" cy="2013.6" r="9.3" fill="#000"/>
<circle cx="518.2" cy="2017.9" r="9.3" fill="#000"/>
<circle cx="527.9" cy="2024.4" r="9.3" fill="#000"/>
<circle cx="539.1" cy="2009.3" r="9.3" fill="#000"/>
<circle cx="507.5" cy="2046.3" r="9.3" fill="#000"/>
<circle cx="529.0" cy="2012.5" r="9.3" fill="#000"/>
<circle cx="559.1" cy="2011.0" r="9.3" fill="#000"/>
<circle cx="538.7" cy="2051.9" r="9.3" fill="#000"/>
<circle cx="552.6" cy="2054.4" r="9.3" fill="#000"/>
<circle cx="566.6" cy="2051.9" r="9.3" fill="#000"/>
<circle cx="546.2" cy="2053.4" r="9.3" fill="#000"/>
<circle cx="559.0" cy="2053.4" r="9.3" fill="#000"/>
<path d="M398.9,1869.3V1897.2" stroke="#000" stroke-width="5.0" fill="none"/><path d="M391.9,1869.3H405.9M391.9,1897.2H405.9" stroke="#000" stroke-width="5.0" stroke-linecap="round" fill="none"/><path d="M386.4,1883.8H411.4" stroke="#000" stroke-width="5.4" fill="none"/>
<path d="M437.3,1935.0V1948.0" stroke="#000" stroke-width="5.0" fill="none"/><path d="M430.3,1935.0H444.3M430.3,1948.0H444.3" stroke="#000" stroke-width="5.0" stroke-linecap="round" fill="none"/><path d="M424.8,1941.6H449.8" stroke="#000" stroke-width="5.4" fill="none"/>
<path d="M475.7,1981.0V2000.0" stroke="#000" stroke-width="5.0" fill="none"/><path d="M468.7,1981.0H482.7M468.7,2000.0H482.7" stroke="#000" stroke-width="5.0" stroke-linecap="round" fill="none"/><path d="M463.2,1990.4H488.2" stroke="#000" stroke-width="5.4" fill="none"/>
<path d="M514.1,2014.0V2026.0" stroke="#000" stroke-width="5.0" fill="none"/><path d="M507.1,2014.0H521.1M507.1,2026.0H521.1" stroke="#000" stroke-width="5.0" stroke-linecap="round" fill="none"/><path d="M501.6,2020.0H526.6" stroke="#000" stroke-width="5.4" fill="none"/>
<path d="M552.6,2029.7V2048.0" stroke="#000" stroke-width="5.0" fill="none"/><path d="M545.6,2029.7H559.6M545.6,2048.0H559.6" stroke="#000" stroke-width="5.0" stroke-linecap="round" fill="none"/><path d="M540.1,2038.8H565.1" stroke="#000" stroke-width="5.4" fill="none"/>
<path d="M616.4,1913.7L624.5,1929.5L608.3,1929.5Z" fill="none" stroke="#000" stroke-width="2.7" stroke-linejoin="miter"/>
<path d="M602.5,1965.3L610.6,1981.2L594.4,1981.2Z" fill="none" stroke="#000" stroke-width="2.7" stroke-linejoin="miter"/>
<path d="M622.2,1972.6L630.3,1988.5L614.1,1988.5Z" fill="none" stroke="#000" stroke-width="2.7" stroke-linejoin="miter"/>
<path d="M640.9,1976.7L649.0,1992.5L632.8,1992.5Z" fill="none" stroke="#000" stroke-width="2.7" stroke-linejoin="miter"/>
<path d="M615.8,1996.5L623.9,2012.3L607.7,2012.3Z" fill="none" stroke="#000" stroke-width="2.7" stroke-linejoin="miter"/>
<path d="M616.4,2015.6L624.5,2031.5L608.3,2031.5Z" fill="none" stroke="#000" stroke-width="2.7" stroke-linejoin="miter"/>
<path d="M617.5,1990.9L625.6,2006.8L609.4,2006.8Z" fill="none" stroke="#000" stroke-width="2.7" stroke-linejoin="miter"/>
<path d="M661.5,1991.1L669.6,2007.0L653.4,2007.0Z" fill="none" stroke="#000" stroke-width="2.7" stroke-linejoin="miter"/>
<path d="M669.5,1996.2L677.6,2012.0L661.4,2012.0Z" fill="none" stroke="#000" stroke-width="2.7" stroke-linejoin="miter"/>
<path d="M639.4,2008.3L647.5,2024.2L631.3,2024.2Z" fill="none" stroke="#000" stroke-width="2.7" stroke-linejoin="miter"/>
<path d="M658.8,2008.7L666.9,2024.5L650.7,2024.5Z" fill="none" stroke="#000" stroke-width="2.7" stroke-linejoin="miter"/>
<path d="M651.9,2025.0L660.0,2040.8L643.8,2040.8Z" fill="none" stroke="#000" stroke-width="2.7" stroke-linejoin="miter"/>
<path d="M693.1,1986.8L701.2,2002.7L685.0,2002.7Z" fill="none" stroke="#000" stroke-width="2.7" stroke-linejoin="miter"/>
<path d="M693.1,1994.3L701.2,2010.2L685.0,2010.2Z" fill="none" stroke="#000" stroke-width="2.7" stroke-linejoin="miter"/>
<path d="M693.1,2004.2L701.2,2020.0L685.0,2020.0Z" fill="none" stroke="#000" stroke-width="2.7" stroke-linejoin="miter"/>
<path d="M693.1,2035.6L701.2,2051.4L685.0,2051.4Z" fill="none" stroke="#000" stroke-width="2.7" stroke-linejoin="miter"/>
<path d="M717.8,2000.8L725.9,2016.7L709.7,2016.7Z" fill="none" stroke="#000" stroke-width="2.7" stroke-linejoin="miter"/>
<path d="M728.6,2006.1L736.7,2022.0L720.5,2022.0Z" fill="none" stroke="#000" stroke-width="2.7" stroke-linejoin="miter"/>
<path d="M735.0,2007.2L743.1,2023.0L726.9,2023.0Z" fill="none" stroke="#000" stroke-width="2.7" stroke-linejoin="miter"/>
<path d="M746.4,2001.8L754.5,2017.7L738.3,2017.7Z" fill="none" stroke="#000" stroke-width="2.7" stroke-linejoin="miter"/>
<path d="M724.9,2048.9L733.0,2064.8L716.8,2064.8Z" fill="none" stroke="#000" stroke-width="2.7" stroke-linejoin="miter"/>
<path d="M745.1,2046.1L753.2,2061.9L737.0,2061.9Z" fill="none" stroke="#000" stroke-width="2.7" stroke-linejoin="miter"/>
<path d="M757.1,2046.1L765.2,2061.9L749.0,2061.9Z" fill="none" stroke="#000" stroke-width="2.7" stroke-linejoin="miter"/>
<path d="M763.6,2042.6L771.7,2058.4L755.5,2058.4Z" fill="none" stroke="#000" stroke-width="2.7" stroke-linejoin="miter"/>
<path d="M776.5,2040.5L784.6,2056.3L768.4,2056.3Z" fill="none" stroke="#000" stroke-width="2.7" stroke-linejoin="miter"/>
<path d="M784.4,2044.8L792.5,2060.7L776.3,2060.7Z" fill="none" stroke="#000" stroke-width="2.7" stroke-linejoin="miter"/>
<path d="M770.5,2050.2L778.6,2066.1L762.4,2066.1Z" fill="none" stroke="#000" stroke-width="2.7" stroke-linejoin="miter"/>
<path d="M616.3,1968.3V1997.1" stroke="#000" stroke-width="5.0" fill="none"/><path d="M609.3,1968.3H623.3M609.3,1997.1H623.3" stroke="#000" stroke-width="5.0" stroke-linecap="round" fill="none"/><path d="M603.8,1982.7H628.8" stroke="#000" stroke-width="5.4" fill="none"/>
<path d="M654.8,2000.3V2011.7" stroke="#000" stroke-width="5.0" fill="none"/><path d="M647.8,2000.3H661.8M647.8,2011.7H661.8" stroke="#000" stroke-width="5.0" stroke-linecap="round" fill="none"/><path d="M642.3,2006.8H667.3" stroke="#000" stroke-width="5.4" fill="none"/>
<path d="M693.2,2001.0V2013.5" stroke="#000" stroke-width="5.0" fill="none"/><path d="M686.2,2001.0H700.2M686.2,2013.5H700.2" stroke="#000" stroke-width="5.0" stroke-linecap="round" fill="none"/><path d="M680.7,2007.4H705.7" stroke="#000" stroke-width="5.4" fill="none"/>
<path d="M731.6,2012.0V2034.9" stroke="#000" stroke-width="5.0" fill="none"/><path d="M724.6,2012.0H738.6M724.6,2034.9H738.6" stroke="#000" stroke-width="5.0" stroke-linecap="round" fill="none"/><path d="M719.1,2023.5H744.1" stroke="#000" stroke-width="5.4" fill="none"/>
<path d="M770.0,2052.0V2056.5" stroke="#000" stroke-width="5.0" fill="none"/><path d="M763.0,2052.0H777.0M763.0,2056.5H777.0" stroke="#000" stroke-width="5.0" stroke-linecap="round" fill="none"/><path d="M757.5,2054.3H782.5" stroke="#000" stroke-width="5.4" fill="none"/>
<path d="M835.2,1655.3L844.7,1673.3L825.7,1673.3Z" fill="#000"/>
<path d="M833.6,1674.4L843.1,1692.4L824.1,1692.4Z" fill="#000"/>
<path d="M834.1,1686.0L843.6,1704.0L824.6,1704.0Z" fill="#000"/>
<path d="M820.1,1734.6L829.6,1752.6L810.6,1752.6Z" fill="#000"/>
<path d="M858.8,1729.2L868.3,1747.2L849.3,1747.2Z" fill="#000"/>
<path d="M841.0,1753.5L850.5,1771.5L831.5,1771.5Z" fill="#000"/>
<path d="M834.1,1792.1L843.6,1810.1L824.6,1810.1Z" fill="#000"/>
<path d="M879.6,1734.6L889.1,1752.6L870.1,1752.6Z" fill="#000"/>
<path d="M866.3,1795.6L875.8,1813.6L856.8,1813.6Z" fill="#000"/>
<path d="M887.8,1793.9L897.3,1811.9L878.3,1811.9Z" fill="#000"/>
<path d="M872.3,1843.9L881.8,1861.9L862.8,1861.9Z" fill="#000"/>
<path d="M872.3,1884.5L881.8,1902.5L862.8,1902.5Z" fill="#000"/>
<path d="M911.0,1873.3L920.5,1891.3L901.5,1891.3Z" fill="#000"/>
<path d="M910.3,1907.1L919.8,1925.1L900.8,1925.1Z" fill="#000"/>
<path d="M911.0,1916.7L920.5,1934.7L901.5,1934.7Z" fill="#000"/>
<path d="M911.4,1925.3L920.9,1943.3L901.9,1943.3Z" fill="#000"/>
<path d="M924.7,1932.0L934.2,1950.0L915.2,1950.0Z" fill="#000"/>
<path d="M904.3,1959.9L913.8,1977.9L894.8,1977.9Z" fill="#000"/>
<path d="M949.4,1949.2L958.9,1967.2L939.9,1967.2Z" fill="#000"/>
<path d="M949.4,1984.4L958.9,2002.4L939.9,2002.4Z" fill="#000"/>
<path d="M949.4,1996.2L958.9,2014.2L939.9,2014.2Z" fill="#000"/>
<path d="M949.4,2010.2L958.9,2028.2L939.9,2028.2Z" fill="#000"/>
<path d="M988.1,1938.0L997.6,1956.0L978.6,1956.0Z" fill="#000"/>
<path d="M988.1,2000.5L997.6,2018.5L978.6,2018.5Z" fill="#000"/>
<path d="M988.1,2007.0L997.6,2025.0L978.6,2025.0Z" fill="#000"/>
<path d="M988.1,2021.6L997.6,2039.6L978.6,2039.6Z" fill="#000"/>
<path d="M834.3,1702.3V1745.3" stroke="#000" stroke-width="5.0" fill="none"/><path d="M827.3,1702.3H841.3M827.3,1745.3H841.3" stroke="#000" stroke-width="5.0" stroke-linecap="round" fill="none"/><path d="M821.8,1723.4H846.8" stroke="#000" stroke-width="5.4" fill="none"/>
<path d="M872.7,1780.7V1830.1" stroke="#000" stroke-width="5.0" fill="none"/><path d="M865.7,1780.7H879.7M865.7,1830.1H879.7" stroke="#000" stroke-width="5.0" stroke-linecap="round" fill="none"/><path d="M860.2,1805.4H885.2" stroke="#000" stroke-width="5.4" fill="none"/>
<path d="M911.2,1915.0V1938.6" stroke="#000" stroke-width="5.0" fill="none"/><path d="M904.2,1915.0H918.2M904.2,1938.6H918.2" stroke="#000" stroke-width="5.0" stroke-linecap="round" fill="none"/><path d="M898.7,1926.8H923.7" stroke="#000" stroke-width="5.4" fill="none"/>
<path d="M949.6,1989.8V2009.1" stroke="#000" stroke-width="5.0" fill="none"/><path d="M942.6,1989.8H956.6M942.6,2009.1H956.6" stroke="#000" stroke-width="5.0" stroke-linecap="round" fill="none"/><path d="M937.1,1998.8H962.1" stroke="#000" stroke-width="5.4" fill="none"/>
<path d="M988.0,1989.8V2013.8" stroke="#000" stroke-width="5.0" fill="none"/><path d="M981.0,1989.8H995.0M981.0,2013.8H995.0" stroke="#000" stroke-width="5.0" stroke-linecap="round" fill="none"/><path d="M975.5,2001.6H1000.5" stroke="#000" stroke-width="5.4" fill="none"/>
</svg></body></html>
